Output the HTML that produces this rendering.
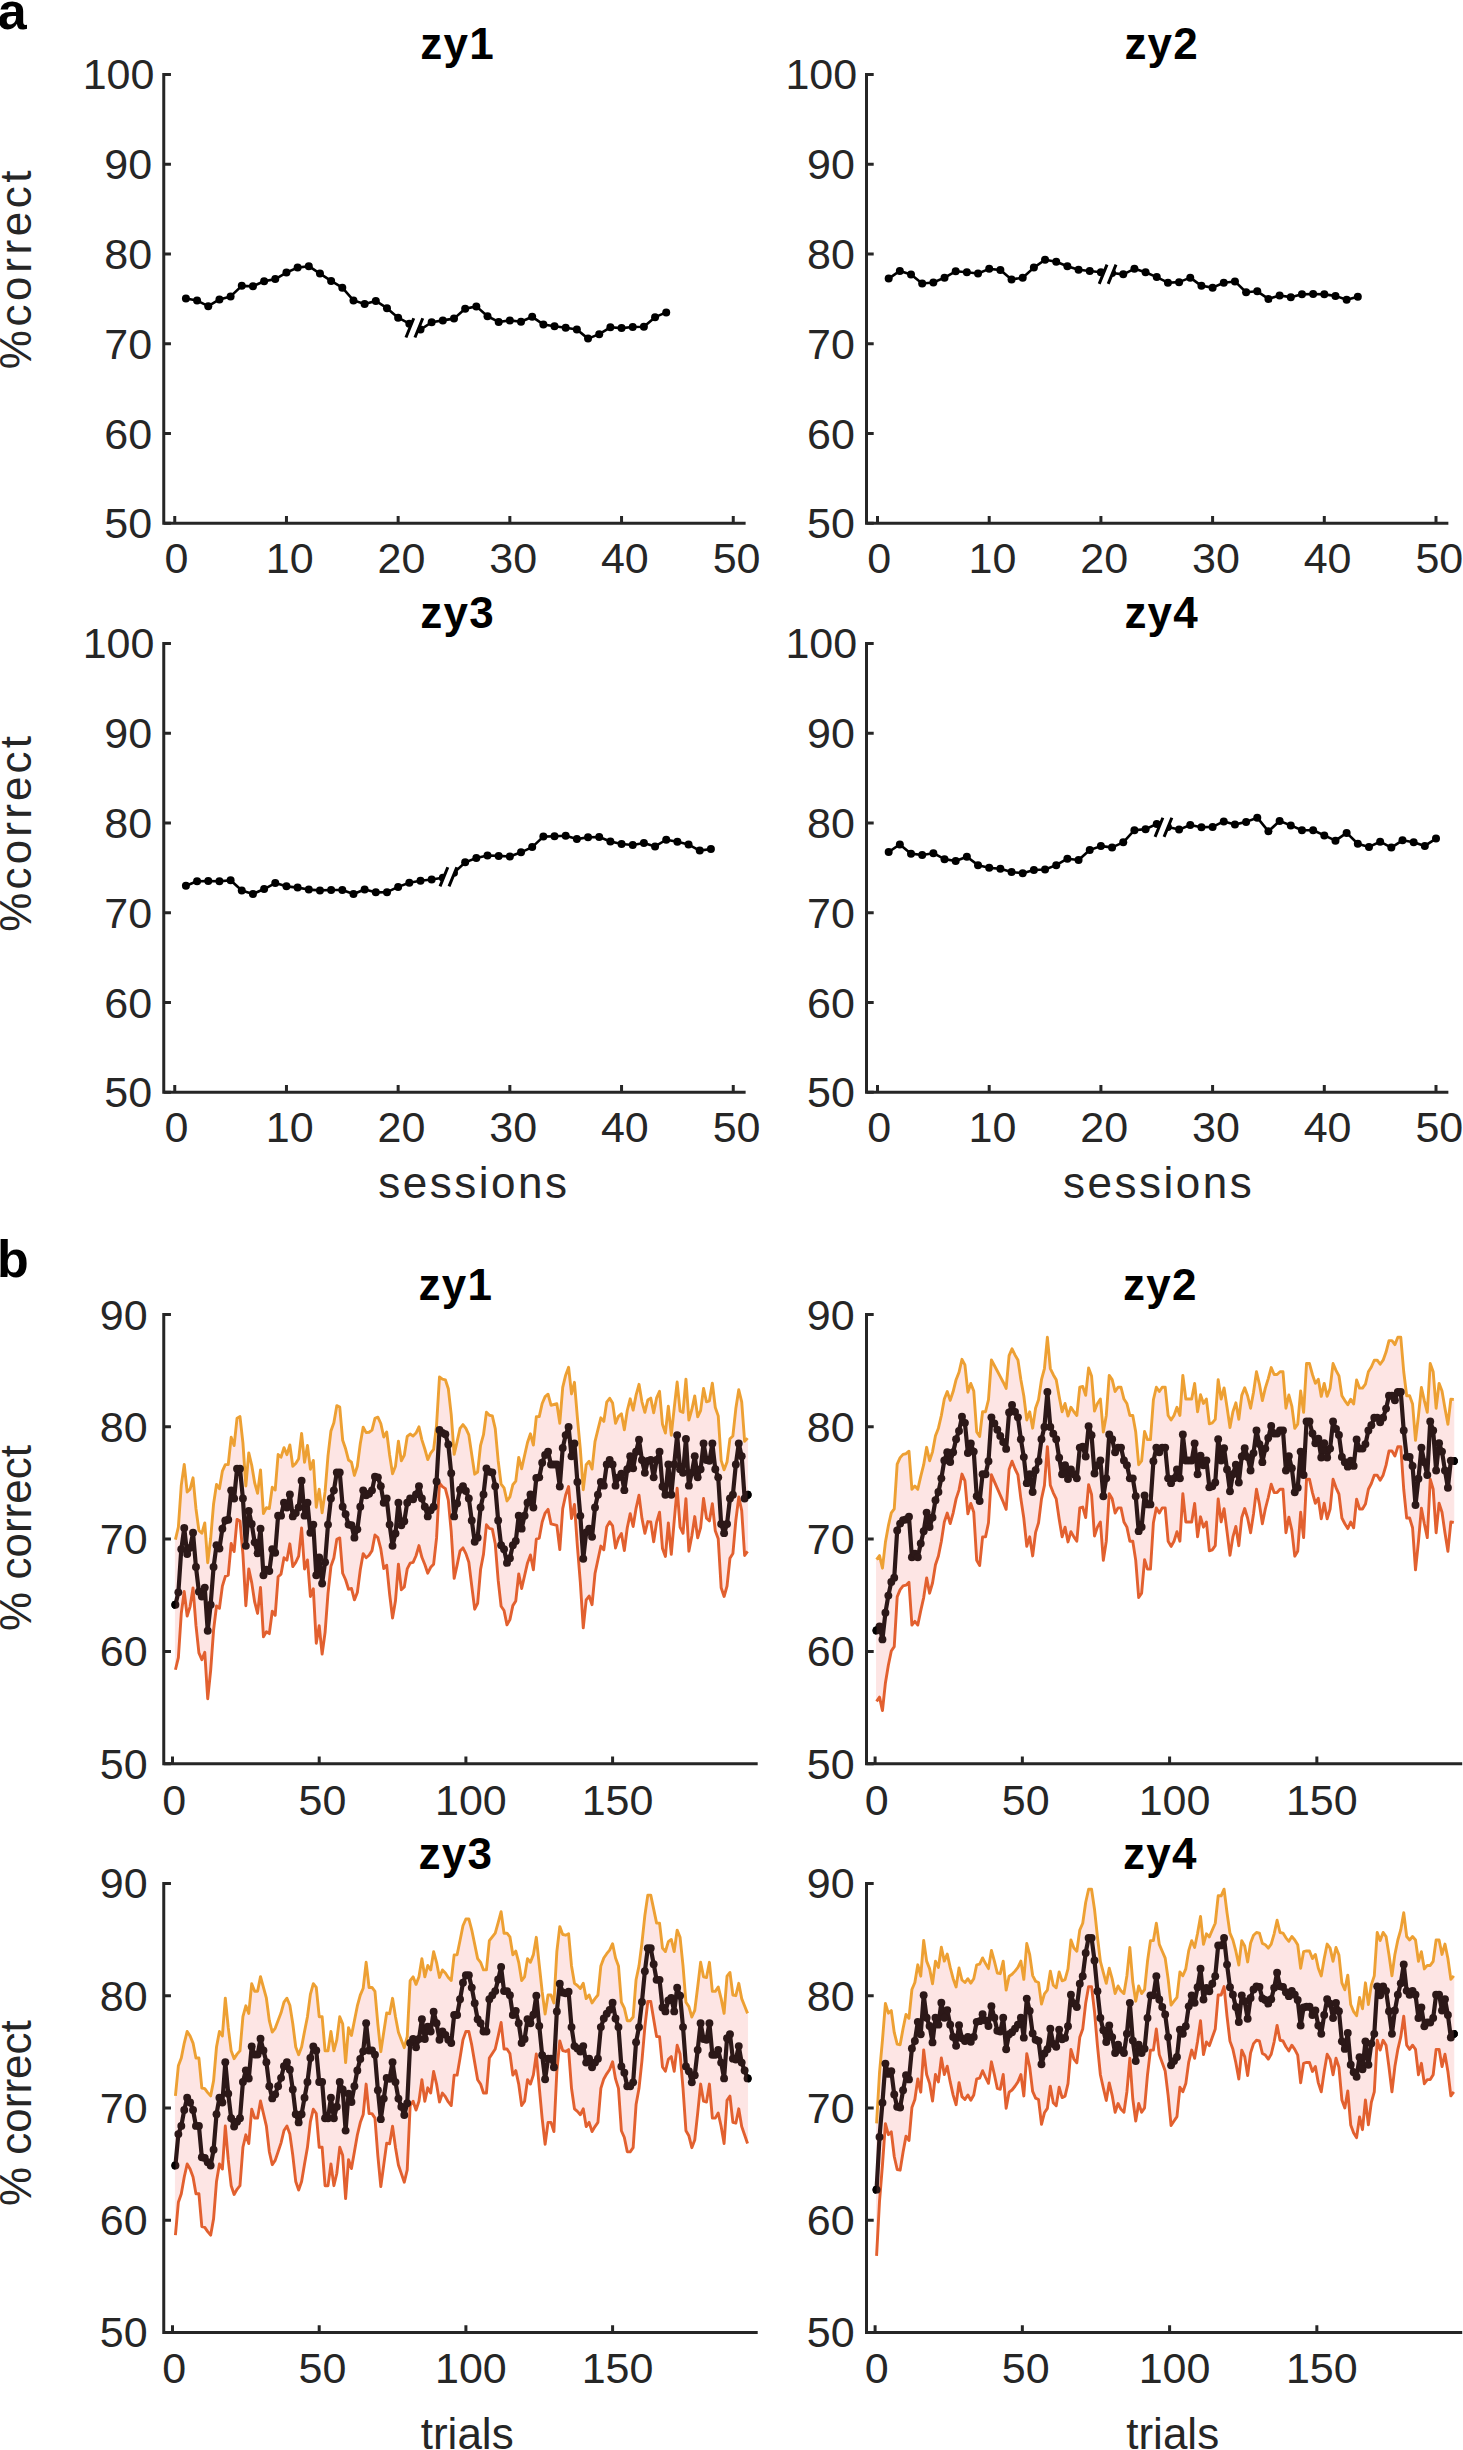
<!DOCTYPE html>
<html lang="en"><head><meta charset="utf-8"><title>Figure</title>
<style>html,body{margin:0;padding:0;background:#fff}svg{display:block}svg text{font-family:"Liberation Sans",sans-serif}</style></head>
<body>
<svg width="1463" height="2450" viewBox="0 0 1463 2450" >
<rect width="1463" height="2450" fill="#fff"/>
<text x="-2.2" y="28.8" font-size="52" font-weight="bold" fill="#000">a</text>
<text x="-3" y="1277.3" font-size="52" font-weight="bold" fill="#000">b</text>
<path d="M163.75 72.9V523.3H745.62" fill="none" stroke="#262626" stroke-width="3.0" stroke-linejoin="miter"/>
<path d="M174.75 523.3v-7.2M286.45 523.3v-7.2M398.15 523.3v-7.2M509.85 523.3v-7.2M621.55 523.3v-7.2M733.25 523.3v-7.2M163.75 523.3h7.2M163.75 433.52h7.2M163.75 343.74h7.2M163.75 253.96h7.2M163.75 164.18h7.2M163.75 74.4h7.2" fill="none" stroke="#262626" stroke-width="3.0"/>
<g font-size="43" fill="#262626"><text x="176.4" y="573.3" text-anchor="middle">0</text><text x="289.75" y="573.3" text-anchor="middle">10</text><text x="401.45" y="573.3" text-anchor="middle">20</text><text x="513.15" y="573.3" text-anchor="middle">30</text><text x="624.85" y="573.3" text-anchor="middle">40</text><text x="736.55" y="573.3" text-anchor="middle">50</text><text x="152.15" y="538.3" text-anchor="end">50</text><text x="152.15" y="448.52" text-anchor="end">60</text><text x="152.15" y="358.74" text-anchor="end">70</text><text x="152.15" y="268.96" text-anchor="end">80</text><text x="152.15" y="179.18" text-anchor="end">90</text><text x="154.45" y="89.4" text-anchor="end">100</text></g>
<text x="420.3" y="58.8" font-size="44" font-weight="bold" fill="#000" letter-spacing="1.2">zy1</text>
<path d="M185.92 298.58L197.09 300.56L208.26 306.21L219.43 299.48L230.6 296.43L241.77 285.83L252.94 286.19L264.11 281.25L275.28 279.1L286.45 272.54L297.62 267.61L308.79 266.17L319.96 273.62L331.13 280.89L342.3 287.63L353.47 300.38L364.64 304.06L375.81 300.91L386.98 308.19L398.15 317.7L409.32 323.72L420.49 329.55L431.66 322.28L442.83 320.4L454 318.6L465.17 308.73L476.34 306.39L487.51 316.27L498.68 321.92L509.85 320.4L521.02 321.74L532.19 316.81L543.36 324.44L554.53 326.23L565.7 327.76L576.87 329.55L588.04 338.62L599.21 334.13L610.38 327.31L621.55 328.12L632.72 326.95L643.89 326.77L655.06 317.17L666.23 312.41" fill="none" stroke="#000" stroke-width="2.6" stroke-linejoin="round"/>
<g fill="#000"><circle cx="185.92" cy="298.58" r="4"/><circle cx="197.09" cy="300.56" r="4"/><circle cx="208.26" cy="306.21" r="4"/><circle cx="219.43" cy="299.48" r="4"/><circle cx="230.6" cy="296.43" r="4"/><circle cx="241.77" cy="285.83" r="4"/><circle cx="252.94" cy="286.19" r="4"/><circle cx="264.11" cy="281.25" r="4"/><circle cx="275.28" cy="279.1" r="4"/><circle cx="286.45" cy="272.54" r="4"/><circle cx="297.62" cy="267.61" r="4"/><circle cx="308.79" cy="266.17" r="4"/><circle cx="319.96" cy="273.62" r="4"/><circle cx="331.13" cy="280.89" r="4"/><circle cx="342.3" cy="287.63" r="4"/><circle cx="353.47" cy="300.38" r="4"/><circle cx="364.64" cy="304.06" r="4"/><circle cx="375.81" cy="300.91" r="4"/><circle cx="386.98" cy="308.19" r="4"/><circle cx="398.15" cy="317.7" r="4"/><circle cx="409.32" cy="323.72" r="4"/><circle cx="420.49" cy="329.55" r="4"/><circle cx="431.66" cy="322.28" r="4"/><circle cx="442.83" cy="320.4" r="4"/><circle cx="454" cy="318.6" r="4"/><circle cx="465.17" cy="308.73" r="4"/><circle cx="476.34" cy="306.39" r="4"/><circle cx="487.51" cy="316.27" r="4"/><circle cx="498.68" cy="321.92" r="4"/><circle cx="509.85" cy="320.4" r="4"/><circle cx="521.02" cy="321.74" r="4"/><circle cx="532.19" cy="316.81" r="4"/><circle cx="543.36" cy="324.44" r="4"/><circle cx="554.53" cy="326.23" r="4"/><circle cx="565.7" cy="327.76" r="4"/><circle cx="576.87" cy="329.55" r="4"/><circle cx="588.04" cy="338.62" r="4"/><circle cx="599.21" cy="334.13" r="4"/><circle cx="610.38" cy="327.31" r="4"/><circle cx="621.55" cy="328.12" r="4"/><circle cx="632.72" cy="326.95" r="4"/><circle cx="643.89" cy="326.77" r="4"/><circle cx="655.06" cy="317.17" r="4"/><circle cx="666.23" cy="312.41" r="4"/></g>
<path d="M405.95 337.45L413.75 318.25L422.75 318.25L414.95 337.45Z" fill="#fff"/>
<path d="M405.95 337.45L413.75 318.25M414.95 337.45L422.75 318.25" stroke="#000" stroke-width="3" fill="none"/>
<path d="M866.5 72.9V523.3H1448.37" fill="none" stroke="#262626" stroke-width="3.0" stroke-linejoin="miter"/>
<path d="M877.5 523.3v-7.2M989.2 523.3v-7.2M1100.9 523.3v-7.2M1212.6 523.3v-7.2M1324.3 523.3v-7.2M1436 523.3v-7.2M866.5 523.3h7.2M866.5 433.52h7.2M866.5 343.74h7.2M866.5 253.96h7.2M866.5 164.18h7.2M866.5 74.4h7.2" fill="none" stroke="#262626" stroke-width="3.0"/>
<g font-size="43" fill="#262626"><text x="879.15" y="573.3" text-anchor="middle">0</text><text x="992.5" y="573.3" text-anchor="middle">10</text><text x="1104.2" y="573.3" text-anchor="middle">20</text><text x="1215.9" y="573.3" text-anchor="middle">30</text><text x="1327.6" y="573.3" text-anchor="middle">40</text><text x="1439.3" y="573.3" text-anchor="middle">50</text><text x="854.9" y="538.3" text-anchor="end">50</text><text x="854.9" y="448.52" text-anchor="end">60</text><text x="854.9" y="358.74" text-anchor="end">70</text><text x="854.9" y="268.96" text-anchor="end">80</text><text x="854.9" y="179.18" text-anchor="end">90</text><text x="857.2" y="89.4" text-anchor="end">100</text></g>
<text x="1124.4" y="58.8" font-size="44" font-weight="bold" fill="#000" letter-spacing="1.2">zy2</text>
<path d="M888.67 278.56L899.84 270.93L911.01 274.52L922.18 283.5L933.35 282.51L944.52 277.66L955.69 271.29L966.86 272.19L978.03 273.44L989.2 268.86L1000.37 269.94L1011.54 279.46L1022.71 277.66L1033.88 267.61L1045.05 259.8L1056.22 261.77L1067.39 266.17L1078.56 269.76L1089.73 270.93L1100.9 272.19L1112.07 273.08L1123.24 274.34L1134.41 268.86L1145.58 272.19L1156.75 277.12L1167.92 282.69L1179.09 282.15L1190.26 277.66L1201.43 285.83L1212.6 287.63L1223.77 282.69L1234.94 281.43L1246.11 292.21L1257.28 291.31L1268.45 298.94L1279.62 295.44L1290.79 297.14L1301.96 294.36L1313.13 294L1324.3 294.36L1335.47 295.89L1346.64 299.84L1357.81 296.79" fill="none" stroke="#000" stroke-width="2.6" stroke-linejoin="round"/>
<g fill="#000"><circle cx="888.67" cy="278.56" r="4"/><circle cx="899.84" cy="270.93" r="4"/><circle cx="911.01" cy="274.52" r="4"/><circle cx="922.18" cy="283.5" r="4"/><circle cx="933.35" cy="282.51" r="4"/><circle cx="944.52" cy="277.66" r="4"/><circle cx="955.69" cy="271.29" r="4"/><circle cx="966.86" cy="272.19" r="4"/><circle cx="978.03" cy="273.44" r="4"/><circle cx="989.2" cy="268.86" r="4"/><circle cx="1000.37" cy="269.94" r="4"/><circle cx="1011.54" cy="279.46" r="4"/><circle cx="1022.71" cy="277.66" r="4"/><circle cx="1033.88" cy="267.61" r="4"/><circle cx="1045.05" cy="259.8" r="4"/><circle cx="1056.22" cy="261.77" r="4"/><circle cx="1067.39" cy="266.17" r="4"/><circle cx="1078.56" cy="269.76" r="4"/><circle cx="1089.73" cy="270.93" r="4"/><circle cx="1100.9" cy="272.19" r="4"/><circle cx="1112.07" cy="273.08" r="4"/><circle cx="1123.24" cy="274.34" r="4"/><circle cx="1134.41" cy="268.86" r="4"/><circle cx="1145.58" cy="272.19" r="4"/><circle cx="1156.75" cy="277.12" r="4"/><circle cx="1167.92" cy="282.69" r="4"/><circle cx="1179.09" cy="282.15" r="4"/><circle cx="1190.26" cy="277.66" r="4"/><circle cx="1201.43" cy="285.83" r="4"/><circle cx="1212.6" cy="287.63" r="4"/><circle cx="1223.77" cy="282.69" r="4"/><circle cx="1234.94" cy="281.43" r="4"/><circle cx="1246.11" cy="292.21" r="4"/><circle cx="1257.28" cy="291.31" r="4"/><circle cx="1268.45" cy="298.94" r="4"/><circle cx="1279.62" cy="295.44" r="4"/><circle cx="1290.79" cy="297.14" r="4"/><circle cx="1301.96" cy="294.36" r="4"/><circle cx="1313.13" cy="294" r="4"/><circle cx="1324.3" cy="294.36" r="4"/><circle cx="1335.47" cy="295.89" r="4"/><circle cx="1346.64" cy="299.84" r="4"/><circle cx="1357.81" cy="296.79" r="4"/></g>
<path d="M1099.2 283.82L1107 264.62L1116 264.62L1108.2 283.82Z" fill="#fff"/>
<path d="M1099.2 283.82L1107 264.62M1108.2 283.82L1116 264.62" stroke="#000" stroke-width="3" fill="none"/>
<path d="M163.75 641.9V1092.3H745.62" fill="none" stroke="#262626" stroke-width="3.0" stroke-linejoin="miter"/>
<path d="M174.75 1092.3v-7.2M286.45 1092.3v-7.2M398.15 1092.3v-7.2M509.85 1092.3v-7.2M621.55 1092.3v-7.2M733.25 1092.3v-7.2M163.75 1092.3h7.2M163.75 1002.52h7.2M163.75 912.74h7.2M163.75 822.96h7.2M163.75 733.18h7.2M163.75 643.4h7.2" fill="none" stroke="#262626" stroke-width="3.0"/>
<g font-size="43" fill="#262626"><text x="176.4" y="1142.3" text-anchor="middle">0</text><text x="289.75" y="1142.3" text-anchor="middle">10</text><text x="401.45" y="1142.3" text-anchor="middle">20</text><text x="513.15" y="1142.3" text-anchor="middle">30</text><text x="624.85" y="1142.3" text-anchor="middle">40</text><text x="736.55" y="1142.3" text-anchor="middle">50</text><text x="152.15" y="1107.3" text-anchor="end">50</text><text x="152.15" y="1017.52" text-anchor="end">60</text><text x="152.15" y="927.74" text-anchor="end">70</text><text x="152.15" y="837.96" text-anchor="end">80</text><text x="152.15" y="748.18" text-anchor="end">90</text><text x="154.45" y="658.4" text-anchor="end">100</text></g>
<text x="420.3" y="628" font-size="44" font-weight="bold" fill="#000" letter-spacing="1.2">zy3</text>
<path d="M185.92 885.81L197.09 881.23L208.26 881.05L219.43 881.23L230.6 880.33L241.77 890.56L252.94 893.98L264.11 889.04L275.28 883.02L286.45 886.34L297.62 887.6L308.79 889.58L319.96 890.38L331.13 889.94L342.3 889.94L353.47 893.98L364.64 889.58L375.81 892.36L386.98 892.18L398.15 886.88L409.32 882.66L420.49 880.78L431.66 879.52L442.83 877.82L454 872.79L465.17 862.37L476.34 857.97L487.51 855.46L498.68 855.91L509.85 856.54L521.02 852.32L532.19 847.11L543.36 836.61L554.53 836.25L565.7 835.8L576.87 839.12L588.04 837.24L599.21 837.06L610.38 841.45L621.55 843.97L632.72 844.96L643.89 843.07L655.06 846.48L666.23 839.75L677.4 841.81L688.57 844.6L699.74 850.61L710.91 849" fill="none" stroke="#000" stroke-width="2.6" stroke-linejoin="round"/>
<g fill="#000"><circle cx="185.92" cy="885.81" r="4"/><circle cx="197.09" cy="881.23" r="4"/><circle cx="208.26" cy="881.05" r="4"/><circle cx="219.43" cy="881.23" r="4"/><circle cx="230.6" cy="880.33" r="4"/><circle cx="241.77" cy="890.56" r="4"/><circle cx="252.94" cy="893.98" r="4"/><circle cx="264.11" cy="889.04" r="4"/><circle cx="275.28" cy="883.02" r="4"/><circle cx="286.45" cy="886.34" r="4"/><circle cx="297.62" cy="887.6" r="4"/><circle cx="308.79" cy="889.58" r="4"/><circle cx="319.96" cy="890.38" r="4"/><circle cx="331.13" cy="889.94" r="4"/><circle cx="342.3" cy="889.94" r="4"/><circle cx="353.47" cy="893.98" r="4"/><circle cx="364.64" cy="889.58" r="4"/><circle cx="375.81" cy="892.36" r="4"/><circle cx="386.98" cy="892.18" r="4"/><circle cx="398.15" cy="886.88" r="4"/><circle cx="409.32" cy="882.66" r="4"/><circle cx="420.49" cy="880.78" r="4"/><circle cx="431.66" cy="879.52" r="4"/><circle cx="442.83" cy="877.82" r="4"/><circle cx="454" cy="872.79" r="4"/><circle cx="465.17" cy="862.37" r="4"/><circle cx="476.34" cy="857.97" r="4"/><circle cx="487.51" cy="855.46" r="4"/><circle cx="498.68" cy="855.91" r="4"/><circle cx="509.85" cy="856.54" r="4"/><circle cx="521.02" cy="852.32" r="4"/><circle cx="532.19" cy="847.11" r="4"/><circle cx="543.36" cy="836.61" r="4"/><circle cx="554.53" cy="836.25" r="4"/><circle cx="565.7" cy="835.8" r="4"/><circle cx="576.87" cy="839.12" r="4"/><circle cx="588.04" cy="837.24" r="4"/><circle cx="599.21" cy="837.06" r="4"/><circle cx="610.38" cy="841.45" r="4"/><circle cx="621.55" cy="843.97" r="4"/><circle cx="632.72" cy="844.96" r="4"/><circle cx="643.89" cy="843.07" r="4"/><circle cx="655.06" cy="846.48" r="4"/><circle cx="666.23" cy="839.75" r="4"/><circle cx="677.4" cy="841.81" r="4"/><circle cx="688.57" cy="844.6" r="4"/><circle cx="699.74" cy="850.61" r="4"/><circle cx="710.91" cy="849" r="4"/></g>
<path d="M440.02 886.4L447.81 867.2L456.81 867.2L449.02 886.4Z" fill="#fff"/>
<path d="M440.02 886.4L447.81 867.2M449.02 886.4L456.81 867.2" stroke="#000" stroke-width="3" fill="none"/>
<path d="M866.5 641.9V1092.3H1448.37" fill="none" stroke="#262626" stroke-width="3.0" stroke-linejoin="miter"/>
<path d="M877.5 1092.3v-7.2M989.2 1092.3v-7.2M1100.9 1092.3v-7.2M1212.6 1092.3v-7.2M1324.3 1092.3v-7.2M1436 1092.3v-7.2M866.5 1092.3h7.2M866.5 1002.52h7.2M866.5 912.74h7.2M866.5 822.96h7.2M866.5 733.18h7.2M866.5 643.4h7.2" fill="none" stroke="#262626" stroke-width="3.0"/>
<g font-size="43" fill="#262626"><text x="879.15" y="1142.3" text-anchor="middle">0</text><text x="992.5" y="1142.3" text-anchor="middle">10</text><text x="1104.2" y="1142.3" text-anchor="middle">20</text><text x="1215.9" y="1142.3" text-anchor="middle">30</text><text x="1327.6" y="1142.3" text-anchor="middle">40</text><text x="1439.3" y="1142.3" text-anchor="middle">50</text><text x="854.9" y="1107.3" text-anchor="end">50</text><text x="854.9" y="1017.52" text-anchor="end">60</text><text x="854.9" y="927.74" text-anchor="end">70</text><text x="854.9" y="837.96" text-anchor="end">80</text><text x="854.9" y="748.18" text-anchor="end">90</text><text x="857.2" y="658.4" text-anchor="end">100</text></g>
<text x="1124.4" y="628" font-size="44" font-weight="bold" fill="#000" letter-spacing="1.2">zy4</text>
<path d="M888.67 851.96L899.84 844.42L911.01 853.66L922.18 854.92L933.35 853.22L944.52 859.14L955.69 861.03L966.86 856.81L978.03 865.16L989.2 867.85L1000.37 868.75L1011.54 872.07L1022.71 873.15L1033.88 870L1045.05 869.56L1056.22 865.16L1067.39 858.69L1078.56 859.95L1089.73 850.07L1100.9 846.12L1112.07 847.38L1123.24 842.35L1134.41 830.23L1145.58 829.15L1156.75 823.95L1167.92 827.09L1179.09 829.6L1190.26 825.02L1201.43 827.27L1212.6 826.91L1223.77 821.43L1234.94 824.4L1246.11 821.88L1257.28 817.66L1268.45 831.31L1279.62 820.98L1290.79 825.38L1301.96 830.23L1313.13 830.23L1324.3 835.44L1335.47 840.65L1346.64 832.93L1357.81 843.79L1368.98 846.93L1380.15 841.72L1391.32 847.56L1402.49 840.29L1413.66 842.17L1424.83 845.94L1436 838.58" fill="none" stroke="#000" stroke-width="2.6" stroke-linejoin="round"/>
<g fill="#000"><circle cx="888.67" cy="851.96" r="4"/><circle cx="899.84" cy="844.42" r="4"/><circle cx="911.01" cy="853.66" r="4"/><circle cx="922.18" cy="854.92" r="4"/><circle cx="933.35" cy="853.22" r="4"/><circle cx="944.52" cy="859.14" r="4"/><circle cx="955.69" cy="861.03" r="4"/><circle cx="966.86" cy="856.81" r="4"/><circle cx="978.03" cy="865.16" r="4"/><circle cx="989.2" cy="867.85" r="4"/><circle cx="1000.37" cy="868.75" r="4"/><circle cx="1011.54" cy="872.07" r="4"/><circle cx="1022.71" cy="873.15" r="4"/><circle cx="1033.88" cy="870" r="4"/><circle cx="1045.05" cy="869.56" r="4"/><circle cx="1056.22" cy="865.16" r="4"/><circle cx="1067.39" cy="858.69" r="4"/><circle cx="1078.56" cy="859.95" r="4"/><circle cx="1089.73" cy="850.07" r="4"/><circle cx="1100.9" cy="846.12" r="4"/><circle cx="1112.07" cy="847.38" r="4"/><circle cx="1123.24" cy="842.35" r="4"/><circle cx="1134.41" cy="830.23" r="4"/><circle cx="1145.58" cy="829.15" r="4"/><circle cx="1156.75" cy="823.95" r="4"/><circle cx="1167.92" cy="827.09" r="4"/><circle cx="1179.09" cy="829.6" r="4"/><circle cx="1190.26" cy="825.02" r="4"/><circle cx="1201.43" cy="827.27" r="4"/><circle cx="1212.6" cy="826.91" r="4"/><circle cx="1223.77" cy="821.43" r="4"/><circle cx="1234.94" cy="824.4" r="4"/><circle cx="1246.11" cy="821.88" r="4"/><circle cx="1257.28" cy="817.66" r="4"/><circle cx="1268.45" cy="831.31" r="4"/><circle cx="1279.62" cy="820.98" r="4"/><circle cx="1290.79" cy="825.38" r="4"/><circle cx="1301.96" cy="830.23" r="4"/><circle cx="1313.13" cy="830.23" r="4"/><circle cx="1324.3" cy="835.44" r="4"/><circle cx="1335.47" cy="840.65" r="4"/><circle cx="1346.64" cy="832.93" r="4"/><circle cx="1357.81" cy="843.79" r="4"/><circle cx="1368.98" cy="846.93" r="4"/><circle cx="1380.15" cy="841.72" r="4"/><circle cx="1391.32" cy="847.56" r="4"/><circle cx="1402.49" cy="840.29" r="4"/><circle cx="1413.66" cy="842.17" r="4"/><circle cx="1424.83" cy="845.94" r="4"/><circle cx="1436" cy="838.58" r="4"/></g>
<path d="M1155.05 836.93L1162.85 817.73L1171.85 817.73L1164.05 836.93Z" fill="#fff"/>
<path d="M1155.05 836.93L1162.85 817.73M1164.05 836.93L1171.85 817.73" stroke="#000" stroke-width="3" fill="none"/>
<circle cx="175.43" cy="1604.68" r="3.95" fill="#000"/>
<circle cx="747.56" cy="1494.74" r="3.95" fill="#000"/>
<path d="M175.43 1539.63L178.37 1527.03L181.3 1485.15L184.24 1464.4L187.17 1492.04L190.1 1489.15L193.04 1477.78L195.97 1508.7L198.91 1530.51L201.84 1533.32L204.77 1522.94L207.71 1562.69L210.64 1538.8L213.58 1503.97L216.51 1484.35L219.44 1488.79L222.38 1471.13L225.31 1464.58L228.25 1464.51L231.18 1437.31L234.11 1445.58L237.05 1418.2L239.98 1416.63L242.92 1442.89L245.85 1485.93L248.78 1452.92L251.72 1465.25L254.65 1482.75L257.59 1493.27L260.52 1469.84L263.45 1513.65L266.39 1507.77L269.32 1508.58L272.26 1487.22L275.19 1490.06L278.12 1454.54L281.06 1457.18L283.99 1447.63L286.93 1454.69L289.86 1444.97L292.79 1466.29L295.73 1463.43L298.66 1458.65L301.6 1433.39L304.53 1462.27L307.46 1445.49L310.4 1469.19L313.33 1460.37L316.27 1507.24L319.2 1489.13L322.13 1512.8L325.07 1491.92L328 1455.8L330.94 1430.89L333.87 1422.67L336.8 1405.64L339.74 1407.09L342.67 1440.25L345.61 1448.79L348.54 1460.02L351.47 1462.19L354.41 1475.41L357.34 1466.22L360.28 1443.69L363.21 1427.12L366.14 1432.61L369.08 1432.24L372.01 1430.09L374.95 1418.34L377.88 1417.13L380.81 1423.51L383.75 1436.97L386.68 1431.93L389.62 1455.01L392.55 1473.71L395.48 1466.15L398.42 1441.27L401.35 1460.83L404.29 1455.3L407.22 1436.49L410.15 1434.06L413.09 1436.12L416.02 1433.05L418.96 1426.83L421.89 1439.83L424.82 1449.01L427.76 1459.61L430.69 1453.2L433.63 1449.34L436.56 1425.1L439.49 1377.06L442.43 1379.12L445.36 1379.83L448.3 1388.67L451.23 1414.63L454.16 1454.41L457.1 1441.64L460.03 1428.3L462.97 1424.52L465.9 1428.45L468.83 1434.89L471.77 1454.78L474.7 1474.17L477.64 1472.03L480.57 1445.27L483.5 1434.7L486.44 1412.14L489.37 1415.25L492.31 1415.86L495.24 1428.6L498.17 1460.72L501.11 1484.1L504.04 1487.93L506.98 1500.97L509.91 1496.8L512.84 1484.72L515.78 1481.1L518.71 1457.4L521.65 1468.78L524.58 1455.55L527.51 1442.51L530.45 1433.83L533.38 1445.09L536.32 1416.81L539.25 1416.58L542.18 1403.5L545.12 1396.67L548.05 1394.17L550.99 1405.22L553.92 1404.49L556.85 1403.76L559.79 1423.23L562.72 1387.41L565.66 1375.18L568.59 1367.28L571.52 1393.92L574.46 1382.32L577.39 1417.65L580.33 1449.22L583.26 1489.68L586.19 1464.77L589.13 1461.3L592.06 1469.02L595 1441.57L597.93 1429.67L600.86 1417.83L603.8 1421.46L606.73 1402.2L609.67 1398.28L612.6 1403.12L615.53 1423.34L618.47 1416.39L621.4 1413.7L624.34 1429.77L627.27 1410.5L630.2 1398.81L633.14 1410.21L636.07 1395.11L639.01 1384.3L641.94 1401.77L644.87 1412.35L647.81 1400.07L650.74 1398.14L653.68 1412.8L656.61 1397.94L659.54 1391.34L662.48 1424.32L665.41 1433.09L668.35 1406.12L671.28 1435.2L674.21 1408.15L677.15 1382.05L680.08 1411.2L683.02 1412.39L685.95 1379.14L688.88 1420.07L691.82 1409.72L694.75 1395.89L697.69 1416.76L700.62 1410.62L703.55 1388.35L706.49 1401.85L709.42 1400.78L712.36 1383.1L715.29 1407.46L718.22 1415.87L721.16 1460.33L724.09 1469.81L727.03 1461.98L729.96 1438.69L732.89 1435.95L735.83 1408.56L738.76 1389.78L741.7 1401.81L744.63 1441.37L747.56 1438.14L747.56 1551.34L744.63 1555.52L741.7 1510.64L738.76 1497.06L735.83 1520.5L732.89 1553.53L729.96 1558.21L727.03 1586.12L724.09 1596.49L721.16 1587.77L718.22 1538.8L715.29 1530.82L712.36 1503.74L709.42 1520.88L706.49 1518.23L703.55 1498.49L700.62 1527.66L697.69 1537.91L694.75 1516.56L691.82 1535.97L688.88 1551.22L685.95 1498.72L683.02 1533.3L680.08 1527.07L677.15 1488.17L674.21 1520.92L671.28 1554.29L668.35 1522.95L665.41 1556.39L662.48 1548.54L659.54 1512.12L656.61 1522.14L653.68 1541.87L650.74 1521.94L647.81 1521.58L644.87 1533.33L641.94 1518.31L639.01 1495.12L636.07 1508.35L633.14 1526.49L630.2 1513.64L627.27 1527.77L624.34 1550.51L621.4 1533.56L618.47 1538.28L615.53 1547.95L612.6 1525.94L609.67 1521.81L606.73 1526.86L603.8 1549.83L600.86 1546.05L597.93 1559.81L595 1573.52L592.06 1604.68L589.13 1596.01L586.19 1599.95L583.26 1627.82L580.33 1582.48L577.39 1546.23L574.46 1504.52L571.52 1518.53L568.59 1486.55L565.66 1495.04L562.72 1508.64L559.79 1549.63L556.85 1525.31L553.92 1524.58L550.99 1523.85L548.05 1509.29L545.12 1513.08L542.18 1521.97L539.25 1538.09L536.32 1539.21L533.38 1569.77L530.45 1554.98L527.51 1562.92L524.58 1575.71L521.65 1588.54L518.71 1573.86L515.78 1600.92L512.84 1605.61L509.91 1619.58L506.98 1624.85L504.04 1610.49L501.11 1606.23L498.17 1580.19L495.24 1543.81L492.31 1529.15L489.37 1528.41L486.44 1524.79L483.5 1554.11L480.57 1569.59L477.64 1603.25L474.7 1609.19L471.77 1586.13L468.83 1562.23L465.9 1553.62L462.97 1547.9L460.03 1551.07L457.1 1565.14L454.16 1578.42L451.23 1531.73L448.3 1500.2L445.36 1488.59L442.43 1486.61L439.49 1483.05L436.56 1537.88L433.63 1564.18L430.69 1567.28L427.76 1573.22L424.82 1564.5L421.89 1557.29L418.96 1545.58L416.02 1555.76L413.09 1562.35L410.15 1563.06L407.22 1568.94L404.29 1586.96L401.35 1589.75L398.42 1564.16L395.48 1600.82L392.55 1617.96L389.62 1594.21L386.68 1565.19L383.75 1568.46L380.81 1548.91L377.88 1537.54L374.95 1534.98L372.01 1550.63L369.08 1555.22L366.14 1557.78L363.21 1553.6L360.28 1569.82L357.34 1592.44L354.41 1599.87L351.47 1588.38L348.54 1589.21L345.61 1579.77L342.67 1573.27L339.74 1537.92L336.8 1539.38L333.87 1558.05L330.94 1566.23L328 1593.42L325.07 1632.55L322.13 1654.12L319.2 1625.68L316.27 1643.28L313.33 1588.86L310.4 1596.43L307.46 1559.94L304.53 1568.99L301.6 1528.02L298.66 1556.21L295.73 1562.44L292.79 1566.54L289.86 1543.84L286.93 1560.18L283.99 1557.8L281.06 1574.08L278.12 1576.72L275.19 1615.32L272.26 1611.19L269.32 1633.63L266.39 1631.74L263.45 1636.87L260.52 1587.47L257.59 1613.45L254.65 1601.96L251.72 1582.63L248.78 1568.91L245.85 1605.74L242.92 1554.23L239.98 1520.97L237.05 1519.4L234.11 1551.53L231.18 1543.41L228.25 1575.06L225.31 1576.34L222.38 1586.18L219.44 1608.28L216.51 1605.98L213.58 1630.16L210.64 1670.57L207.71 1698.78L204.77 1652.28L201.84 1659.66L198.91 1652.81L195.97 1625.42L193.04 1587.84L190.1 1606.57L187.17 1616.03L184.24 1591.56L181.3 1613.26L178.37 1657.63L175.43 1669.74Z" fill="#FDE5E4" stroke="#FDE5E4" stroke-width="1" stroke-linejoin="miter" stroke-miterlimit="6"/>
<path d="M175.43 1539.63L178.37 1527.03L181.3 1485.15L184.24 1464.4L187.17 1492.04L190.1 1489.15L193.04 1477.78L195.97 1508.7L198.91 1530.51L201.84 1533.32L204.77 1522.94L207.71 1562.69L210.64 1538.8L213.58 1503.97L216.51 1484.35L219.44 1488.79L222.38 1471.13L225.31 1464.58L228.25 1464.51L231.18 1437.31L234.11 1445.58L237.05 1418.2L239.98 1416.63L242.92 1442.89L245.85 1485.93L248.78 1452.92L251.72 1465.25L254.65 1482.75L257.59 1493.27L260.52 1469.84L263.45 1513.65L266.39 1507.77L269.32 1508.58L272.26 1487.22L275.19 1490.06L278.12 1454.54L281.06 1457.18L283.99 1447.63L286.93 1454.69L289.86 1444.97L292.79 1466.29L295.73 1463.43L298.66 1458.65L301.6 1433.39L304.53 1462.27L307.46 1445.49L310.4 1469.19L313.33 1460.37L316.27 1507.24L319.2 1489.13L322.13 1512.8L325.07 1491.92L328 1455.8L330.94 1430.89L333.87 1422.67L336.8 1405.64L339.74 1407.09L342.67 1440.25L345.61 1448.79L348.54 1460.02L351.47 1462.19L354.41 1475.41L357.34 1466.22L360.28 1443.69L363.21 1427.12L366.14 1432.61L369.08 1432.24L372.01 1430.09L374.95 1418.34L377.88 1417.13L380.81 1423.51L383.75 1436.97L386.68 1431.93L389.62 1455.01L392.55 1473.71L395.48 1466.15L398.42 1441.27L401.35 1460.83L404.29 1455.3L407.22 1436.49L410.15 1434.06L413.09 1436.12L416.02 1433.05L418.96 1426.83L421.89 1439.83L424.82 1449.01L427.76 1459.61L430.69 1453.2L433.63 1449.34L436.56 1425.1L439.49 1377.06L442.43 1379.12L445.36 1379.83L448.3 1388.67L451.23 1414.63L454.16 1454.41L457.1 1441.64L460.03 1428.3L462.97 1424.52L465.9 1428.45L468.83 1434.89L471.77 1454.78L474.7 1474.17L477.64 1472.03L480.57 1445.27L483.5 1434.7L486.44 1412.14L489.37 1415.25L492.31 1415.86L495.24 1428.6L498.17 1460.72L501.11 1484.1L504.04 1487.93L506.98 1500.97L509.91 1496.8L512.84 1484.72L515.78 1481.1L518.71 1457.4L521.65 1468.78L524.58 1455.55L527.51 1442.51L530.45 1433.83L533.38 1445.09L536.32 1416.81L539.25 1416.58L542.18 1403.5L545.12 1396.67L548.05 1394.17L550.99 1405.22L553.92 1404.49L556.85 1403.76L559.79 1423.23L562.72 1387.41L565.66 1375.18L568.59 1367.28L571.52 1393.92L574.46 1382.32L577.39 1417.65L580.33 1449.22L583.26 1489.68L586.19 1464.77L589.13 1461.3L592.06 1469.02L595 1441.57L597.93 1429.67L600.86 1417.83L603.8 1421.46L606.73 1402.2L609.67 1398.28L612.6 1403.12L615.53 1423.34L618.47 1416.39L621.4 1413.7L624.34 1429.77L627.27 1410.5L630.2 1398.81L633.14 1410.21L636.07 1395.11L639.01 1384.3L641.94 1401.77L644.87 1412.35L647.81 1400.07L650.74 1398.14L653.68 1412.8L656.61 1397.94L659.54 1391.34L662.48 1424.32L665.41 1433.09L668.35 1406.12L671.28 1435.2L674.21 1408.15L677.15 1382.05L680.08 1411.2L683.02 1412.39L685.95 1379.14L688.88 1420.07L691.82 1409.72L694.75 1395.89L697.69 1416.76L700.62 1410.62L703.55 1388.35L706.49 1401.85L709.42 1400.78L712.36 1383.1L715.29 1407.46L718.22 1415.87L721.16 1460.33L724.09 1469.81L727.03 1461.98L729.96 1438.69L732.89 1435.95L735.83 1408.56L738.76 1389.78L741.7 1401.81L744.63 1441.37L747.56 1438.14" fill="none" stroke="#EDA033" stroke-width="2.9" stroke-linejoin="round"/>
<path d="M175.43 1669.74L178.37 1657.63L181.3 1613.26L184.24 1591.56L187.17 1616.03L190.1 1606.57L193.04 1587.84L195.97 1625.42L198.91 1652.81L201.84 1659.66L204.77 1652.28L207.71 1698.78L210.64 1670.57L213.58 1630.16L216.51 1605.98L219.44 1608.28L222.38 1586.18L225.31 1576.34L228.25 1575.06L231.18 1543.41L234.11 1551.53L237.05 1519.4L239.98 1520.97L242.92 1554.23L245.85 1605.74L248.78 1568.91L251.72 1582.63L254.65 1601.96L257.59 1613.45L260.52 1587.47L263.45 1636.87L266.39 1631.74L269.32 1633.63L272.26 1611.19L275.19 1615.32L278.12 1576.72L281.06 1574.08L283.99 1557.8L286.93 1560.18L289.86 1543.84L292.79 1566.54L295.73 1562.44L298.66 1556.21L301.6 1528.02L304.53 1568.99L307.46 1559.94L310.4 1596.43L313.33 1588.86L316.27 1643.28L319.2 1625.68L322.13 1654.12L325.07 1632.55L328 1593.42L330.94 1566.23L333.87 1558.05L336.8 1539.38L339.74 1537.92L342.67 1573.27L345.61 1579.77L348.54 1589.21L351.47 1588.38L354.41 1599.87L357.34 1592.44L360.28 1569.82L363.21 1553.6L366.14 1557.78L369.08 1555.22L372.01 1550.63L374.95 1534.98L377.88 1537.54L380.81 1548.91L383.75 1568.46L386.68 1565.19L389.62 1594.21L392.55 1617.96L395.48 1600.82L398.42 1564.16L401.35 1589.75L404.29 1586.96L407.22 1568.94L410.15 1563.06L413.09 1562.35L416.02 1555.76L418.96 1545.58L421.89 1557.29L424.82 1564.5L427.76 1573.22L430.69 1567.28L433.63 1564.18L436.56 1537.88L439.49 1483.05L442.43 1486.61L445.36 1488.59L448.3 1500.2L451.23 1531.73L454.16 1578.42L457.1 1565.14L460.03 1551.07L462.97 1547.9L465.9 1553.62L468.83 1562.23L471.77 1586.13L474.7 1609.19L477.64 1603.25L480.57 1569.59L483.5 1554.11L486.44 1524.79L489.37 1528.41L492.31 1529.15L495.24 1543.81L498.17 1580.19L501.11 1606.23L504.04 1610.49L506.98 1624.85L509.91 1619.58L512.84 1605.61L515.78 1600.92L518.71 1573.86L521.65 1588.54L524.58 1575.71L527.51 1562.92L530.45 1554.98L533.38 1569.77L536.32 1539.21L539.25 1538.09L542.18 1521.97L545.12 1513.08L548.05 1509.29L550.99 1523.85L553.92 1524.58L556.85 1525.31L559.79 1549.63L562.72 1508.64L565.66 1495.04L568.59 1486.55L571.52 1518.53L574.46 1504.52L577.39 1546.23L580.33 1582.48L583.26 1627.82L586.19 1599.95L589.13 1596.01L592.06 1604.68L595 1573.52L597.93 1559.81L600.86 1546.05L603.8 1549.83L606.73 1526.86L609.67 1521.81L612.6 1525.94L615.53 1547.95L618.47 1538.28L621.4 1533.56L624.34 1550.51L627.27 1527.77L630.2 1513.64L633.14 1526.49L636.07 1508.35L639.01 1495.12L641.94 1518.31L644.87 1533.33L647.81 1521.58L650.74 1521.94L653.68 1541.87L656.61 1522.14L659.54 1512.12L662.48 1548.54L665.41 1556.39L668.35 1522.95L671.28 1554.29L674.21 1520.92L677.15 1488.17L680.08 1527.07L683.02 1533.3L685.95 1498.72L688.88 1551.22L691.82 1535.97L694.75 1516.56L697.69 1537.91L700.62 1527.66L703.55 1498.49L706.49 1518.23L709.42 1520.88L712.36 1503.74L715.29 1530.82L718.22 1538.8L721.16 1587.77L724.09 1596.49L727.03 1586.12L729.96 1558.21L732.89 1553.53L735.83 1520.5L738.76 1497.06L741.7 1510.64L744.63 1555.52L747.56 1551.34" fill="none" stroke="#E2602F" stroke-width="2.9" stroke-linejoin="round"/>
<path d="M175.43 1604.68L178.37 1592.33L181.3 1549.21L184.24 1527.98L187.17 1554.04L190.1 1547.86L193.04 1532.81L195.97 1567.06L198.91 1591.66L201.84 1596.49L204.77 1587.61L207.71 1630.74L210.64 1604.68L213.58 1567.06L216.51 1545.16L219.44 1548.53L222.38 1528.66L225.31 1520.46L228.25 1519.78L231.18 1490.36L234.11 1498.56L237.05 1468.8L239.98 1468.8L242.92 1498.56L245.85 1545.84L248.78 1510.91L251.72 1523.94L254.65 1542.36L257.59 1553.36L260.52 1528.66L263.45 1575.26L266.39 1569.76L269.32 1571.11L272.26 1549.21L275.19 1552.69L278.12 1515.63L281.06 1515.63L283.99 1502.71L286.93 1507.43L289.86 1494.4L292.79 1516.42L295.73 1512.93L298.66 1507.43L301.6 1480.7L304.53 1515.63L307.46 1502.71L310.4 1532.81L313.33 1524.61L316.27 1575.26L319.2 1557.4L322.13 1583.46L325.07 1562.23L328 1524.61L330.94 1498.56L333.87 1490.36L336.8 1472.51L339.74 1472.51L342.67 1506.76L345.61 1514.28L348.54 1524.61L351.47 1525.29L354.41 1537.64L357.34 1529.33L360.28 1506.76L363.21 1490.36L366.14 1495.19L369.08 1493.73L372.01 1490.36L374.95 1476.66L377.88 1477.34L380.81 1486.21L383.75 1502.71L386.68 1498.56L389.62 1524.61L392.55 1545.84L395.48 1533.49L398.42 1502.71L401.35 1525.29L404.29 1521.13L407.22 1502.71L410.15 1498.56L413.09 1499.23L416.02 1494.4L418.96 1486.21L421.89 1498.56L424.82 1506.76L427.76 1516.42L430.69 1510.24L433.63 1506.76L436.56 1481.49L439.49 1430.06L442.43 1432.86L445.36 1434.21L448.3 1444.43L451.23 1473.18L454.16 1516.42L457.1 1503.39L460.03 1489.69L462.97 1486.21L465.9 1491.04L468.83 1498.56L471.77 1520.46L474.7 1541.68L477.64 1537.64L480.57 1507.43L483.5 1494.4L486.44 1468.46L489.37 1471.83L492.31 1472.51L495.24 1486.21L498.17 1520.46L501.11 1545.16L504.04 1549.21L506.98 1562.91L509.91 1558.19L512.84 1545.16L515.78 1541.01L518.71 1515.63L521.65 1528.66L524.58 1515.63L527.51 1502.71L530.45 1494.4L533.38 1507.43L536.32 1478.01L539.25 1477.34L542.18 1462.74L545.12 1454.88L548.05 1451.73L550.99 1464.53L553.92 1464.53L556.85 1464.53L559.79 1486.43L562.72 1448.02L565.66 1435.11L568.59 1426.91L571.52 1456.22L574.46 1443.42L577.39 1481.94L580.33 1515.85L583.26 1558.75L586.19 1532.36L589.13 1528.66L592.06 1536.85L595 1507.54L597.93 1494.74L600.86 1481.94L603.8 1485.65L606.73 1464.53L609.67 1460.04L612.6 1464.53L615.53 1485.65L618.47 1477.34L621.4 1473.63L624.34 1490.14L627.27 1469.14L630.2 1456.22L633.14 1468.35L636.07 1451.73L639.01 1439.71L641.94 1460.04L644.87 1472.84L647.81 1460.83L650.74 1460.04L653.68 1477.34L656.61 1460.04L659.54 1451.73L662.48 1486.43L665.41 1494.74L668.35 1464.53L671.28 1494.74L674.21 1464.53L677.15 1435.11L680.08 1469.14L683.02 1472.84L685.95 1438.93L688.88 1485.65L691.82 1472.84L694.75 1456.22L697.69 1477.34L700.62 1469.14L703.55 1443.42L706.49 1460.04L709.42 1460.83L712.36 1443.42L715.29 1469.14L718.22 1477.34L721.16 1524.05L724.09 1533.15L727.03 1524.05L729.96 1498.45L732.89 1494.74L735.83 1464.53L738.76 1443.42L741.7 1456.22L744.63 1498.45L747.56 1494.74" fill="none" stroke="#2C1818" stroke-width="4.2" stroke-linejoin="round"/>
<g fill="#2C1818"><circle cx="175.43" cy="1604.68" r="3.95"/><circle cx="178.37" cy="1592.33" r="3.95"/><circle cx="181.3" cy="1549.21" r="3.95"/><circle cx="184.24" cy="1527.98" r="3.95"/><circle cx="187.17" cy="1554.04" r="3.95"/><circle cx="190.1" cy="1547.86" r="3.95"/><circle cx="193.04" cy="1532.81" r="3.95"/><circle cx="195.97" cy="1567.06" r="3.95"/><circle cx="198.91" cy="1591.66" r="3.95"/><circle cx="201.84" cy="1596.49" r="3.95"/><circle cx="204.77" cy="1587.61" r="3.95"/><circle cx="207.71" cy="1630.74" r="3.95"/><circle cx="210.64" cy="1604.68" r="3.95"/><circle cx="213.58" cy="1567.06" r="3.95"/><circle cx="216.51" cy="1545.16" r="3.95"/><circle cx="219.44" cy="1548.53" r="3.95"/><circle cx="222.38" cy="1528.66" r="3.95"/><circle cx="225.31" cy="1520.46" r="3.95"/><circle cx="228.25" cy="1519.78" r="3.95"/><circle cx="231.18" cy="1490.36" r="3.95"/><circle cx="234.11" cy="1498.56" r="3.95"/><circle cx="237.05" cy="1468.8" r="3.95"/><circle cx="239.98" cy="1468.8" r="3.95"/><circle cx="242.92" cy="1498.56" r="3.95"/><circle cx="245.85" cy="1545.84" r="3.95"/><circle cx="248.78" cy="1510.91" r="3.95"/><circle cx="251.72" cy="1523.94" r="3.95"/><circle cx="254.65" cy="1542.36" r="3.95"/><circle cx="257.59" cy="1553.36" r="3.95"/><circle cx="260.52" cy="1528.66" r="3.95"/><circle cx="263.45" cy="1575.26" r="3.95"/><circle cx="266.39" cy="1569.76" r="3.95"/><circle cx="269.32" cy="1571.11" r="3.95"/><circle cx="272.26" cy="1549.21" r="3.95"/><circle cx="275.19" cy="1552.69" r="3.95"/><circle cx="278.12" cy="1515.63" r="3.95"/><circle cx="281.06" cy="1515.63" r="3.95"/><circle cx="283.99" cy="1502.71" r="3.95"/><circle cx="286.93" cy="1507.43" r="3.95"/><circle cx="289.86" cy="1494.4" r="3.95"/><circle cx="292.79" cy="1516.42" r="3.95"/><circle cx="295.73" cy="1512.93" r="3.95"/><circle cx="298.66" cy="1507.43" r="3.95"/><circle cx="301.6" cy="1480.7" r="3.95"/><circle cx="304.53" cy="1515.63" r="3.95"/><circle cx="307.46" cy="1502.71" r="3.95"/><circle cx="310.4" cy="1532.81" r="3.95"/><circle cx="313.33" cy="1524.61" r="3.95"/><circle cx="316.27" cy="1575.26" r="3.95"/><circle cx="319.2" cy="1557.4" r="3.95"/><circle cx="322.13" cy="1583.46" r="3.95"/><circle cx="325.07" cy="1562.23" r="3.95"/><circle cx="328" cy="1524.61" r="3.95"/><circle cx="330.94" cy="1498.56" r="3.95"/><circle cx="333.87" cy="1490.36" r="3.95"/><circle cx="336.8" cy="1472.51" r="3.95"/><circle cx="339.74" cy="1472.51" r="3.95"/><circle cx="342.67" cy="1506.76" r="3.95"/><circle cx="345.61" cy="1514.28" r="3.95"/><circle cx="348.54" cy="1524.61" r="3.95"/><circle cx="351.47" cy="1525.29" r="3.95"/><circle cx="354.41" cy="1537.64" r="3.95"/><circle cx="357.34" cy="1529.33" r="3.95"/><circle cx="360.28" cy="1506.76" r="3.95"/><circle cx="363.21" cy="1490.36" r="3.95"/><circle cx="366.14" cy="1495.19" r="3.95"/><circle cx="369.08" cy="1493.73" r="3.95"/><circle cx="372.01" cy="1490.36" r="3.95"/><circle cx="374.95" cy="1476.66" r="3.95"/><circle cx="377.88" cy="1477.34" r="3.95"/><circle cx="380.81" cy="1486.21" r="3.95"/><circle cx="383.75" cy="1502.71" r="3.95"/><circle cx="386.68" cy="1498.56" r="3.95"/><circle cx="389.62" cy="1524.61" r="3.95"/><circle cx="392.55" cy="1545.84" r="3.95"/><circle cx="395.48" cy="1533.49" r="3.95"/><circle cx="398.42" cy="1502.71" r="3.95"/><circle cx="401.35" cy="1525.29" r="3.95"/><circle cx="404.29" cy="1521.13" r="3.95"/><circle cx="407.22" cy="1502.71" r="3.95"/><circle cx="410.15" cy="1498.56" r="3.95"/><circle cx="413.09" cy="1499.23" r="3.95"/><circle cx="416.02" cy="1494.4" r="3.95"/><circle cx="418.96" cy="1486.21" r="3.95"/><circle cx="421.89" cy="1498.56" r="3.95"/><circle cx="424.82" cy="1506.76" r="3.95"/><circle cx="427.76" cy="1516.42" r="3.95"/><circle cx="430.69" cy="1510.24" r="3.95"/><circle cx="433.63" cy="1506.76" r="3.95"/><circle cx="436.56" cy="1481.49" r="3.95"/><circle cx="439.49" cy="1430.06" r="3.95"/><circle cx="442.43" cy="1432.86" r="3.95"/><circle cx="445.36" cy="1434.21" r="3.95"/><circle cx="448.3" cy="1444.43" r="3.95"/><circle cx="451.23" cy="1473.18" r="3.95"/><circle cx="454.16" cy="1516.42" r="3.95"/><circle cx="457.1" cy="1503.39" r="3.95"/><circle cx="460.03" cy="1489.69" r="3.95"/><circle cx="462.97" cy="1486.21" r="3.95"/><circle cx="465.9" cy="1491.04" r="3.95"/><circle cx="468.83" cy="1498.56" r="3.95"/><circle cx="471.77" cy="1520.46" r="3.95"/><circle cx="474.7" cy="1541.68" r="3.95"/><circle cx="477.64" cy="1537.64" r="3.95"/><circle cx="480.57" cy="1507.43" r="3.95"/><circle cx="483.5" cy="1494.4" r="3.95"/><circle cx="486.44" cy="1468.46" r="3.95"/><circle cx="489.37" cy="1471.83" r="3.95"/><circle cx="492.31" cy="1472.51" r="3.95"/><circle cx="495.24" cy="1486.21" r="3.95"/><circle cx="498.17" cy="1520.46" r="3.95"/><circle cx="501.11" cy="1545.16" r="3.95"/><circle cx="504.04" cy="1549.21" r="3.95"/><circle cx="506.98" cy="1562.91" r="3.95"/><circle cx="509.91" cy="1558.19" r="3.95"/><circle cx="512.84" cy="1545.16" r="3.95"/><circle cx="515.78" cy="1541.01" r="3.95"/><circle cx="518.71" cy="1515.63" r="3.95"/><circle cx="521.65" cy="1528.66" r="3.95"/><circle cx="524.58" cy="1515.63" r="3.95"/><circle cx="527.51" cy="1502.71" r="3.95"/><circle cx="530.45" cy="1494.4" r="3.95"/><circle cx="533.38" cy="1507.43" r="3.95"/><circle cx="536.32" cy="1478.01" r="3.95"/><circle cx="539.25" cy="1477.34" r="3.95"/><circle cx="542.18" cy="1462.74" r="3.95"/><circle cx="545.12" cy="1454.88" r="3.95"/><circle cx="548.05" cy="1451.73" r="3.95"/><circle cx="550.99" cy="1464.53" r="3.95"/><circle cx="553.92" cy="1464.53" r="3.95"/><circle cx="556.85" cy="1464.53" r="3.95"/><circle cx="559.79" cy="1486.43" r="3.95"/><circle cx="562.72" cy="1448.02" r="3.95"/><circle cx="565.66" cy="1435.11" r="3.95"/><circle cx="568.59" cy="1426.91" r="3.95"/><circle cx="571.52" cy="1456.22" r="3.95"/><circle cx="574.46" cy="1443.42" r="3.95"/><circle cx="577.39" cy="1481.94" r="3.95"/><circle cx="580.33" cy="1515.85" r="3.95"/><circle cx="583.26" cy="1558.75" r="3.95"/><circle cx="586.19" cy="1532.36" r="3.95"/><circle cx="589.13" cy="1528.66" r="3.95"/><circle cx="592.06" cy="1536.85" r="3.95"/><circle cx="595" cy="1507.54" r="3.95"/><circle cx="597.93" cy="1494.74" r="3.95"/><circle cx="600.86" cy="1481.94" r="3.95"/><circle cx="603.8" cy="1485.65" r="3.95"/><circle cx="606.73" cy="1464.53" r="3.95"/><circle cx="609.67" cy="1460.04" r="3.95"/><circle cx="612.6" cy="1464.53" r="3.95"/><circle cx="615.53" cy="1485.65" r="3.95"/><circle cx="618.47" cy="1477.34" r="3.95"/><circle cx="621.4" cy="1473.63" r="3.95"/><circle cx="624.34" cy="1490.14" r="3.95"/><circle cx="627.27" cy="1469.14" r="3.95"/><circle cx="630.2" cy="1456.22" r="3.95"/><circle cx="633.14" cy="1468.35" r="3.95"/><circle cx="636.07" cy="1451.73" r="3.95"/><circle cx="639.01" cy="1439.71" r="3.95"/><circle cx="641.94" cy="1460.04" r="3.95"/><circle cx="644.87" cy="1472.84" r="3.95"/><circle cx="647.81" cy="1460.83" r="3.95"/><circle cx="650.74" cy="1460.04" r="3.95"/><circle cx="653.68" cy="1477.34" r="3.95"/><circle cx="656.61" cy="1460.04" r="3.95"/><circle cx="659.54" cy="1451.73" r="3.95"/><circle cx="662.48" cy="1486.43" r="3.95"/><circle cx="665.41" cy="1494.74" r="3.95"/><circle cx="668.35" cy="1464.53" r="3.95"/><circle cx="671.28" cy="1494.74" r="3.95"/><circle cx="674.21" cy="1464.53" r="3.95"/><circle cx="677.15" cy="1435.11" r="3.95"/><circle cx="680.08" cy="1469.14" r="3.95"/><circle cx="683.02" cy="1472.84" r="3.95"/><circle cx="685.95" cy="1438.93" r="3.95"/><circle cx="688.88" cy="1485.65" r="3.95"/><circle cx="691.82" cy="1472.84" r="3.95"/><circle cx="694.75" cy="1456.22" r="3.95"/><circle cx="697.69" cy="1477.34" r="3.95"/><circle cx="700.62" cy="1469.14" r="3.95"/><circle cx="703.55" cy="1443.42" r="3.95"/><circle cx="706.49" cy="1460.04" r="3.95"/><circle cx="709.42" cy="1460.83" r="3.95"/><circle cx="712.36" cy="1443.42" r="3.95"/><circle cx="715.29" cy="1469.14" r="3.95"/><circle cx="718.22" cy="1477.34" r="3.95"/><circle cx="721.16" cy="1524.05" r="3.95"/><circle cx="724.09" cy="1533.15" r="3.95"/><circle cx="727.03" cy="1524.05" r="3.95"/><circle cx="729.96" cy="1498.45" r="3.95"/><circle cx="732.89" cy="1494.74" r="3.95"/><circle cx="735.83" cy="1464.53" r="3.95"/><circle cx="738.76" cy="1443.42" r="3.95"/><circle cx="741.7" cy="1456.22" r="3.95"/><circle cx="744.63" cy="1498.45" r="3.95"/><circle cx="747.56" cy="1494.74" r="3.95"/></g>
<path d="M175.43 1600.73A3.95 3.95 0 0 0 175.43 1608.63Z" fill="#000"/>
<path d="M747.56 1490.79A3.95 3.95 0 0 1 747.56 1498.69Z" fill="#000"/>
<path d="M163.75 1313V1763.7H757.7" fill="none" stroke="#262626" stroke-width="3.0" stroke-linejoin="miter"/>
<path d="M172.5 1763.7v-7.2M319.2 1763.7v-7.2M465.9 1763.7v-7.2M612.6 1763.7v-7.2M163.75 1763.7h7.2M163.75 1651.4h7.2M163.75 1539.1h7.2M163.75 1426.8h7.2M163.75 1314.5h7.2" fill="none" stroke="#262626" stroke-width="3.0"/>
<g font-size="43" fill="#262626"><text x="174.15" y="1814.5" text-anchor="middle">0</text><text x="322.5" y="1814.5" text-anchor="middle">50</text><text x="470.85" y="1814.5" text-anchor="middle">100</text><text x="617.55" y="1814.5" text-anchor="middle">150</text><text x="147.65" y="1778.7" text-anchor="end">50</text><text x="147.65" y="1666.4" text-anchor="end">60</text><text x="147.65" y="1554.1" text-anchor="end">70</text><text x="147.65" y="1441.8" text-anchor="end">80</text><text x="147.65" y="1329.5" text-anchor="end">90</text></g>
<text x="418.6" y="1299.9" font-size="44" font-weight="bold" fill="#000" letter-spacing="1.2">zy1</text>
<circle cx="876.57" cy="1630.51" r="3.95" fill="#000"/>
<circle cx="1453.79" cy="1460.94" r="3.95" fill="#000"/>
<path d="M876.57 1559.6L879.52 1555.58L882.46 1568.2L885.41 1542.35L888.35 1525.94L891.3 1512.82L894.24 1508.86L897.19 1464.05L900.13 1457.62L903.08 1454.35L906.02 1453.72L908.97 1451.2L911.91 1489.3L914.86 1486L917.8 1489.3L920.75 1476.33L923.69 1464.69L926.64 1447.31L929.58 1460.78L932.53 1451.83L935.47 1435.78L938.42 1428.16L941.36 1415.48L944.31 1399.05L947.25 1391.55L950.2 1400.39L953.14 1391.55L956.09 1379.69L959.03 1372.26L961.98 1359.31L964.92 1364.86L967.87 1392.17L970.81 1383.46L973.76 1390.94L976.7 1432.02L979.65 1436.51L982.59 1411.75L985.54 1411.75L988.48 1399.77L991.43 1359.91L994.37 1365.47L997.32 1371.04L1000.26 1376.63L1003.21 1382.24L1006.15 1388.48L1009.1 1355.58L1012.04 1348.85L1014.99 1354.98L1017.93 1359.91L1020.88 1379.69L1023.82 1395.97L1026.77 1419.94L1029.71 1411.75L1032.66 1428.16L1035.6 1407.92L1038.55 1399.77L1041.49 1379.69L1044.44 1368.51L1047.38 1337.28L1050.33 1368.51L1053.27 1374.7L1056.22 1379.69L1059.16 1396.58L1062.11 1411.75L1065.05 1403.48L1068 1416.1L1070.94 1407.3L1073.89 1411.75L1076.83 1415.48L1079.78 1387.25L1082.72 1386.53L1085.67 1395.35L1088.61 1367.9L1091.56 1376.02L1094.5 1411.03L1097.45 1403.48L1100.39 1399.05L1103.34 1432.02L1106.28 1415.48L1109.23 1375.41L1112.17 1379.69L1115.12 1391.55L1118.06 1387.25L1121.01 1387.25L1123.95 1399.05L1126.9 1403.48L1129.84 1415.48L1132.79 1415.48L1135.73 1432.02L1138.68 1464.69L1141.62 1460.78L1144.57 1431.4L1147.51 1439.65L1150.46 1439.65L1153.4 1399.77L1156.35 1387.25L1159.29 1391.55L1162.24 1387.25L1165.18 1387.25L1168.13 1415.48L1171.07 1419.94L1174.02 1415.48L1176.96 1407.3L1179.91 1415.48L1182.85 1375.41L1185.8 1399.05L1188.74 1399.05L1191.69 1399.05L1194.63 1383.46L1197.58 1411.75L1200.52 1394.73L1203.47 1403.48L1206.41 1399.05L1209.36 1423.79L1212.3 1422.85L1215.25 1419.32L1218.19 1379.69L1221.14 1399.05L1224.08 1387.86L1227.03 1407.3L1229.97 1427.54L1232.92 1411.75L1235.86 1402.86L1238.81 1419.32L1241.75 1395.35L1244.7 1387.76L1247.64 1395.97L1250.59 1408.23L1253.53 1392.27L1256.48 1371.75L1259.42 1384.08L1262.37 1400.6L1265.31 1388.17L1268.26 1378.57L1271.2 1367.59L1274.15 1374.5L1277.09 1374.5L1280.04 1371.75L1282.98 1371.75L1285.93 1408.23L1288.87 1395.04L1291.82 1406.06L1294.76 1428.37L1297.71 1424.21L1300.65 1390.94L1303.6 1412.37L1306.54 1363.55L1309.49 1363.55L1312.43 1374.5L1315.38 1383.36L1318.32 1379.28L1321.27 1396.38L1324.21 1383.36L1327.16 1396.38L1330.1 1388.17L1333.05 1363.55L1335.99 1370.33L1338.94 1375.82L1341.88 1395.76L1344.83 1400.6L1347.77 1404.72L1350.72 1399.16L1353.66 1404L1356.61 1379.89L1359.55 1388.17L1362.5 1388.17L1365.44 1384.08L1368.39 1371.75L1371.33 1366.99L1374.28 1360.21L1377.22 1360.21L1380.17 1364.25L1383.11 1360.21L1386.06 1352.06L1389 1340.66L1391.95 1340.66L1394.89 1344.65L1397.84 1337.28L1400.78 1337.28L1403.73 1371.75L1406.67 1395.76L1409.62 1395.76L1412.56 1404L1415.51 1440.28L1418.45 1415.79L1421.4 1387.45L1424.34 1400.6L1427.29 1412.37L1430.23 1363.55L1433.18 1371.75L1436.12 1408.23L1439.07 1383.36L1442.01 1390.94L1444.96 1408.23L1447.9 1424.21L1450.85 1399.16L1453.79 1399.46L1453.79 1522.41L1450.85 1522.05L1447.9 1551.35L1444.96 1532.74L1442.01 1512.3L1439.07 1503.25L1436.12 1532.74L1433.18 1489.26L1430.23 1479.27L1427.29 1537.58L1424.34 1523.75L1421.4 1508.15L1418.45 1541.57L1415.51 1569.86L1412.56 1527.76L1409.62 1518.03L1406.67 1518.03L1403.73 1489.26L1400.78 1446.7L1397.84 1446.7L1394.89 1455.94L1391.95 1450.95L1389 1450.95L1386.06 1465.15L1383.11 1475.19L1380.17 1480.14L1377.22 1475.19L1374.28 1475.19L1371.33 1483.47L1368.39 1489.26L1365.44 1504.11L1362.5 1509L1359.55 1509L1356.61 1499.09L1353.66 1527.76L1350.72 1522.05L1347.77 1528.61L1344.83 1523.75L1341.88 1518.03L1338.94 1494.18L1335.99 1487.54L1333.05 1479.27L1330.1 1509L1327.16 1518.76L1324.21 1503.25L1321.27 1518.76L1318.32 1498.35L1315.38 1503.25L1312.43 1492.58L1309.49 1479.27L1306.54 1479.27L1303.6 1537.58L1300.65 1512.3L1297.71 1551.35L1294.76 1556.17L1291.82 1530.19L1288.87 1517.18L1285.93 1532.74L1282.98 1489.26L1280.04 1489.26L1277.09 1492.58L1274.15 1492.58L1271.2 1484.21L1268.26 1497.49L1265.31 1509L1262.37 1523.75L1259.42 1504.11L1256.48 1489.26L1253.53 1513.89L1250.59 1532.74L1247.64 1518.28L1244.7 1508.51L1241.75 1517.54L1238.81 1545.68L1235.86 1526.43L1232.92 1536.86L1229.97 1555.21L1227.03 1531.65L1224.08 1508.64L1221.14 1521.93L1218.19 1498.84L1215.25 1545.68L1212.3 1549.79L1209.36 1550.87L1206.41 1521.93L1203.47 1527.15L1200.52 1516.81L1197.58 1536.86L1194.63 1503.38L1191.69 1521.93L1188.74 1521.93L1185.8 1521.93L1182.85 1493.69L1179.91 1541.21L1176.96 1531.65L1174.02 1541.21L1171.07 1546.41L1168.13 1541.21L1165.18 1507.9L1162.24 1507.9L1159.29 1513.03L1156.35 1507.9L1153.4 1522.78L1150.46 1569.14L1147.51 1569.14L1144.57 1559.66L1141.62 1593.16L1138.68 1597.57L1135.73 1560.38L1132.79 1541.21L1129.84 1541.21L1126.9 1527.15L1123.95 1521.93L1121.01 1507.9L1118.06 1507.9L1115.12 1513.03L1112.17 1498.84L1109.23 1493.69L1106.28 1541.21L1103.34 1560.38L1100.39 1521.93L1097.45 1527.15L1094.5 1536.01L1091.56 1494.42L1088.61 1484.58L1085.67 1517.54L1082.72 1507.05L1079.78 1507.9L1076.83 1541.21L1073.89 1536.86L1070.94 1531.65L1068 1541.94L1065.05 1527.15L1062.11 1536.86L1059.16 1519.01L1056.22 1498.84L1053.27 1492.83L1050.33 1485.32L1047.38 1446.7L1044.44 1485.32L1041.49 1498.84L1038.55 1522.78L1035.6 1532.37L1032.66 1555.93L1029.71 1536.86L1026.77 1546.41L1023.82 1518.28L1020.88 1498.84L1017.93 1474.82L1014.99 1468.75L1012.04 1461.17L1009.1 1469.5L1006.15 1509.37L1003.21 1501.91L1000.26 1495.16L997.32 1488.4L994.37 1481.62L991.43 1474.82L988.48 1522.78L985.54 1536.86L982.59 1536.86L979.65 1565.55L976.7 1560.38L973.76 1512.3L970.81 1503.38L967.87 1513.76L964.92 1480.88L961.98 1474.08L959.03 1489.88L956.09 1498.84L953.14 1513.03L950.2 1523.51L947.25 1513.03L944.31 1521.93L941.36 1541.21L938.42 1555.93L935.47 1564.71L932.53 1583.03L929.58 1593.16L926.64 1577.89L923.69 1597.57L920.75 1610.63L917.8 1625.06L914.86 1621.4L911.91 1625.06L908.97 1582.31L906.02 1585.17L903.08 1585.89L900.13 1589.59L897.19 1596.85L894.24 1646.61L891.3 1650.95L888.35 1665.23L885.41 1682.96L882.46 1710.57L879.52 1697.13L876.57 1701.42Z" fill="#FDE5E4" stroke="#FDE5E4" stroke-width="1" stroke-linejoin="miter" stroke-miterlimit="6"/>
<path d="M876.57 1559.6L879.52 1555.58L882.46 1568.2L885.41 1542.35L888.35 1525.94L891.3 1512.82L894.24 1508.86L897.19 1464.05L900.13 1457.62L903.08 1454.35L906.02 1453.72L908.97 1451.2L911.91 1489.3L914.86 1486L917.8 1489.3L920.75 1476.33L923.69 1464.69L926.64 1447.31L929.58 1460.78L932.53 1451.83L935.47 1435.78L938.42 1428.16L941.36 1415.48L944.31 1399.05L947.25 1391.55L950.2 1400.39L953.14 1391.55L956.09 1379.69L959.03 1372.26L961.98 1359.31L964.92 1364.86L967.87 1392.17L970.81 1383.46L973.76 1390.94L976.7 1432.02L979.65 1436.51L982.59 1411.75L985.54 1411.75L988.48 1399.77L991.43 1359.91L994.37 1365.47L997.32 1371.04L1000.26 1376.63L1003.21 1382.24L1006.15 1388.48L1009.1 1355.58L1012.04 1348.85L1014.99 1354.98L1017.93 1359.91L1020.88 1379.69L1023.82 1395.97L1026.77 1419.94L1029.71 1411.75L1032.66 1428.16L1035.6 1407.92L1038.55 1399.77L1041.49 1379.69L1044.44 1368.51L1047.38 1337.28L1050.33 1368.51L1053.27 1374.7L1056.22 1379.69L1059.16 1396.58L1062.11 1411.75L1065.05 1403.48L1068 1416.1L1070.94 1407.3L1073.89 1411.75L1076.83 1415.48L1079.78 1387.25L1082.72 1386.53L1085.67 1395.35L1088.61 1367.9L1091.56 1376.02L1094.5 1411.03L1097.45 1403.48L1100.39 1399.05L1103.34 1432.02L1106.28 1415.48L1109.23 1375.41L1112.17 1379.69L1115.12 1391.55L1118.06 1387.25L1121.01 1387.25L1123.95 1399.05L1126.9 1403.48L1129.84 1415.48L1132.79 1415.48L1135.73 1432.02L1138.68 1464.69L1141.62 1460.78L1144.57 1431.4L1147.51 1439.65L1150.46 1439.65L1153.4 1399.77L1156.35 1387.25L1159.29 1391.55L1162.24 1387.25L1165.18 1387.25L1168.13 1415.48L1171.07 1419.94L1174.02 1415.48L1176.96 1407.3L1179.91 1415.48L1182.85 1375.41L1185.8 1399.05L1188.74 1399.05L1191.69 1399.05L1194.63 1383.46L1197.58 1411.75L1200.52 1394.73L1203.47 1403.48L1206.41 1399.05L1209.36 1423.79L1212.3 1422.85L1215.25 1419.32L1218.19 1379.69L1221.14 1399.05L1224.08 1387.86L1227.03 1407.3L1229.97 1427.54L1232.92 1411.75L1235.86 1402.86L1238.81 1419.32L1241.75 1395.35L1244.7 1387.76L1247.64 1395.97L1250.59 1408.23L1253.53 1392.27L1256.48 1371.75L1259.42 1384.08L1262.37 1400.6L1265.31 1388.17L1268.26 1378.57L1271.2 1367.59L1274.15 1374.5L1277.09 1374.5L1280.04 1371.75L1282.98 1371.75L1285.93 1408.23L1288.87 1395.04L1291.82 1406.06L1294.76 1428.37L1297.71 1424.21L1300.65 1390.94L1303.6 1412.37L1306.54 1363.55L1309.49 1363.55L1312.43 1374.5L1315.38 1383.36L1318.32 1379.28L1321.27 1396.38L1324.21 1383.36L1327.16 1396.38L1330.1 1388.17L1333.05 1363.55L1335.99 1370.33L1338.94 1375.82L1341.88 1395.76L1344.83 1400.6L1347.77 1404.72L1350.72 1399.16L1353.66 1404L1356.61 1379.89L1359.55 1388.17L1362.5 1388.17L1365.44 1384.08L1368.39 1371.75L1371.33 1366.99L1374.28 1360.21L1377.22 1360.21L1380.17 1364.25L1383.11 1360.21L1386.06 1352.06L1389 1340.66L1391.95 1340.66L1394.89 1344.65L1397.84 1337.28L1400.78 1337.28L1403.73 1371.75L1406.67 1395.76L1409.62 1395.76L1412.56 1404L1415.51 1440.28L1418.45 1415.79L1421.4 1387.45L1424.34 1400.6L1427.29 1412.37L1430.23 1363.55L1433.18 1371.75L1436.12 1408.23L1439.07 1383.36L1442.01 1390.94L1444.96 1408.23L1447.9 1424.21L1450.85 1399.16L1453.79 1399.46" fill="none" stroke="#EDA033" stroke-width="2.9" stroke-linejoin="round"/>
<path d="M876.57 1701.42L879.52 1697.13L882.46 1710.57L885.41 1682.96L888.35 1665.23L891.3 1650.95L894.24 1646.61L897.19 1596.85L900.13 1589.59L903.08 1585.89L906.02 1585.17L908.97 1582.31L911.91 1625.06L914.86 1621.4L917.8 1625.06L920.75 1610.63L923.69 1597.57L926.64 1577.89L929.58 1593.16L932.53 1583.03L935.47 1564.71L938.42 1555.93L941.36 1541.21L944.31 1521.93L947.25 1513.03L950.2 1523.51L953.14 1513.03L956.09 1498.84L959.03 1489.88L961.98 1474.08L964.92 1480.88L967.87 1513.76L970.81 1503.38L973.76 1512.3L976.7 1560.38L979.65 1565.55L982.59 1536.86L985.54 1536.86L988.48 1522.78L991.43 1474.82L994.37 1481.62L997.32 1488.4L1000.26 1495.16L1003.21 1501.91L1006.15 1509.37L1009.1 1469.5L1012.04 1461.17L1014.99 1468.75L1017.93 1474.82L1020.88 1498.84L1023.82 1518.28L1026.77 1546.41L1029.71 1536.86L1032.66 1555.93L1035.6 1532.37L1038.55 1522.78L1041.49 1498.84L1044.44 1485.32L1047.38 1446.7L1050.33 1485.32L1053.27 1492.83L1056.22 1498.84L1059.16 1519.01L1062.11 1536.86L1065.05 1527.15L1068 1541.94L1070.94 1531.65L1073.89 1536.86L1076.83 1541.21L1079.78 1507.9L1082.72 1507.05L1085.67 1517.54L1088.61 1484.58L1091.56 1494.42L1094.5 1536.01L1097.45 1527.15L1100.39 1521.93L1103.34 1560.38L1106.28 1541.21L1109.23 1493.69L1112.17 1498.84L1115.12 1513.03L1118.06 1507.9L1121.01 1507.9L1123.95 1521.93L1126.9 1527.15L1129.84 1541.21L1132.79 1541.21L1135.73 1560.38L1138.68 1597.57L1141.62 1593.16L1144.57 1559.66L1147.51 1569.14L1150.46 1569.14L1153.4 1522.78L1156.35 1507.9L1159.29 1513.03L1162.24 1507.9L1165.18 1507.9L1168.13 1541.21L1171.07 1546.41L1174.02 1541.21L1176.96 1531.65L1179.91 1541.21L1182.85 1493.69L1185.8 1521.93L1188.74 1521.93L1191.69 1521.93L1194.63 1503.38L1197.58 1536.86L1200.52 1516.81L1203.47 1527.15L1206.41 1521.93L1209.36 1550.87L1212.3 1549.79L1215.25 1545.68L1218.19 1498.84L1221.14 1521.93L1224.08 1508.64L1227.03 1531.65L1229.97 1555.21L1232.92 1536.86L1235.86 1526.43L1238.81 1545.68L1241.75 1517.54L1244.7 1508.51L1247.64 1518.28L1250.59 1532.74L1253.53 1513.89L1256.48 1489.26L1259.42 1504.11L1262.37 1523.75L1265.31 1509L1268.26 1497.49L1271.2 1484.21L1274.15 1492.58L1277.09 1492.58L1280.04 1489.26L1282.98 1489.26L1285.93 1532.74L1288.87 1517.18L1291.82 1530.19L1294.76 1556.17L1297.71 1551.35L1300.65 1512.3L1303.6 1537.58L1306.54 1479.27L1309.49 1479.27L1312.43 1492.58L1315.38 1503.25L1318.32 1498.35L1321.27 1518.76L1324.21 1503.25L1327.16 1518.76L1330.1 1509L1333.05 1479.27L1335.99 1487.54L1338.94 1494.18L1341.88 1518.03L1344.83 1523.75L1347.77 1528.61L1350.72 1522.05L1353.66 1527.76L1356.61 1499.09L1359.55 1509L1362.5 1509L1365.44 1504.11L1368.39 1489.26L1371.33 1483.47L1374.28 1475.19L1377.22 1475.19L1380.17 1480.14L1383.11 1475.19L1386.06 1465.15L1389 1450.95L1391.95 1450.95L1394.89 1455.94L1397.84 1446.7L1400.78 1446.7L1403.73 1489.26L1406.67 1518.03L1409.62 1518.03L1412.56 1527.76L1415.51 1569.86L1418.45 1541.57L1421.4 1508.15L1424.34 1523.75L1427.29 1537.58L1430.23 1479.27L1433.18 1489.26L1436.12 1532.74L1439.07 1503.25L1442.01 1512.3L1444.96 1532.74L1447.9 1551.35L1450.85 1522.05L1453.79 1522.41" fill="none" stroke="#E2602F" stroke-width="2.9" stroke-linejoin="round"/>
<path d="M876.57 1630.51L879.52 1626.36L882.46 1639.38L885.41 1612.66L888.35 1595.59L891.3 1581.89L894.24 1577.73L897.19 1530.45L900.13 1523.6L903.08 1520.12L906.02 1519.45L908.97 1516.75L911.91 1557.18L914.86 1553.7L917.8 1557.18L920.75 1543.48L923.69 1531.13L926.64 1512.6L929.58 1526.97L932.53 1517.43L935.47 1500.24L938.42 1492.05L941.36 1478.35L944.31 1460.49L947.25 1452.29L950.2 1461.95L953.14 1452.29L956.09 1439.27L959.03 1431.07L961.98 1416.69L964.92 1422.87L967.87 1452.97L970.81 1443.42L973.76 1451.62L976.7 1496.2L979.65 1501.03L982.59 1474.3L985.54 1474.3L988.48 1461.28L991.43 1417.37L994.37 1423.54L997.32 1429.72L1000.26 1435.9L1003.21 1442.07L1006.15 1448.92L1009.1 1412.54L1012.04 1405.01L1014.99 1411.86L1017.93 1417.37L1020.88 1439.27L1023.82 1457.12L1026.77 1483.17L1029.71 1474.3L1032.66 1492.05L1035.6 1470.15L1038.55 1461.28L1041.49 1439.27L1044.44 1426.91L1047.38 1391.99L1050.33 1426.91L1053.27 1433.76L1056.22 1439.27L1059.16 1457.79L1062.11 1474.3L1065.05 1465.32L1068 1479.02L1070.94 1469.47L1073.89 1474.3L1076.83 1478.35L1079.78 1447.58L1082.72 1446.79L1085.67 1456.45L1088.61 1426.24L1091.56 1435.22L1094.5 1473.52L1097.45 1465.32L1100.39 1460.49L1103.34 1496.2L1106.28 1478.35L1109.23 1434.55L1112.17 1439.27L1115.12 1452.29L1118.06 1447.58L1121.01 1447.58L1123.95 1460.49L1126.9 1465.32L1129.84 1478.35L1132.79 1478.35L1135.73 1496.2L1138.68 1531.13L1141.62 1526.97L1144.57 1495.53L1147.51 1504.4L1150.46 1504.4L1153.4 1461.28L1156.35 1447.58L1159.29 1452.29L1162.24 1447.58L1165.18 1447.58L1168.13 1478.35L1171.07 1483.17L1174.02 1478.35L1176.96 1469.47L1179.91 1478.35L1182.85 1434.55L1185.8 1460.49L1188.74 1460.49L1191.69 1460.49L1194.63 1443.42L1197.58 1474.3L1200.52 1455.77L1203.47 1465.32L1206.41 1460.49L1209.36 1487.33L1212.3 1486.32L1215.25 1482.5L1218.19 1439.27L1221.14 1460.49L1224.08 1448.25L1227.03 1469.47L1229.97 1491.37L1232.92 1474.3L1235.86 1464.65L1238.81 1482.5L1241.75 1456.45L1244.7 1448.14L1247.64 1457.12L1250.59 1470.48L1253.53 1453.08L1256.48 1430.51L1259.42 1444.09L1262.37 1462.17L1265.31 1448.59L1268.26 1438.03L1271.2 1425.9L1274.15 1433.54L1277.09 1433.54L1280.04 1430.51L1282.98 1430.51L1285.93 1470.48L1288.87 1456.11L1291.82 1468.13L1294.76 1492.27L1297.71 1487.78L1300.65 1451.62L1303.6 1474.98L1306.54 1421.41L1309.49 1421.41L1312.43 1433.54L1315.38 1443.31L1318.32 1438.82L1321.27 1457.57L1324.21 1443.31L1327.16 1457.57L1330.1 1448.59L1333.05 1421.41L1335.99 1428.93L1338.94 1435L1341.88 1456.9L1344.83 1462.17L1347.77 1466.67L1350.72 1460.6L1353.66 1465.88L1356.61 1439.49L1359.55 1448.59L1362.5 1448.59L1365.44 1444.09L1368.39 1430.51L1371.33 1425.23L1374.28 1417.7L1377.22 1417.7L1380.17 1422.2L1383.11 1417.7L1386.06 1408.61L1389 1395.81L1391.95 1395.81L1394.89 1400.3L1397.84 1391.99L1400.78 1391.99L1403.73 1430.51L1406.67 1456.9L1409.62 1456.9L1412.56 1465.88L1415.51 1505.07L1418.45 1478.68L1421.4 1447.8L1424.34 1462.17L1427.29 1474.98L1430.23 1421.41L1433.18 1430.51L1436.12 1470.48L1439.07 1443.31L1442.01 1451.62L1444.96 1470.48L1447.9 1487.78L1450.85 1460.6L1453.79 1460.94" fill="none" stroke="#2C1818" stroke-width="4.2" stroke-linejoin="round"/>
<g fill="#2C1818"><circle cx="876.57" cy="1630.51" r="3.95"/><circle cx="879.52" cy="1626.36" r="3.95"/><circle cx="882.46" cy="1639.38" r="3.95"/><circle cx="885.41" cy="1612.66" r="3.95"/><circle cx="888.35" cy="1595.59" r="3.95"/><circle cx="891.3" cy="1581.89" r="3.95"/><circle cx="894.24" cy="1577.73" r="3.95"/><circle cx="897.19" cy="1530.45" r="3.95"/><circle cx="900.13" cy="1523.6" r="3.95"/><circle cx="903.08" cy="1520.12" r="3.95"/><circle cx="906.02" cy="1519.45" r="3.95"/><circle cx="908.97" cy="1516.75" r="3.95"/><circle cx="911.91" cy="1557.18" r="3.95"/><circle cx="914.86" cy="1553.7" r="3.95"/><circle cx="917.8" cy="1557.18" r="3.95"/><circle cx="920.75" cy="1543.48" r="3.95"/><circle cx="923.69" cy="1531.13" r="3.95"/><circle cx="926.64" cy="1512.6" r="3.95"/><circle cx="929.58" cy="1526.97" r="3.95"/><circle cx="932.53" cy="1517.43" r="3.95"/><circle cx="935.47" cy="1500.24" r="3.95"/><circle cx="938.42" cy="1492.05" r="3.95"/><circle cx="941.36" cy="1478.35" r="3.95"/><circle cx="944.31" cy="1460.49" r="3.95"/><circle cx="947.25" cy="1452.29" r="3.95"/><circle cx="950.2" cy="1461.95" r="3.95"/><circle cx="953.14" cy="1452.29" r="3.95"/><circle cx="956.09" cy="1439.27" r="3.95"/><circle cx="959.03" cy="1431.07" r="3.95"/><circle cx="961.98" cy="1416.69" r="3.95"/><circle cx="964.92" cy="1422.87" r="3.95"/><circle cx="967.87" cy="1452.97" r="3.95"/><circle cx="970.81" cy="1443.42" r="3.95"/><circle cx="973.76" cy="1451.62" r="3.95"/><circle cx="976.7" cy="1496.2" r="3.95"/><circle cx="979.65" cy="1501.03" r="3.95"/><circle cx="982.59" cy="1474.3" r="3.95"/><circle cx="985.54" cy="1474.3" r="3.95"/><circle cx="988.48" cy="1461.28" r="3.95"/><circle cx="991.43" cy="1417.37" r="3.95"/><circle cx="994.37" cy="1423.54" r="3.95"/><circle cx="997.32" cy="1429.72" r="3.95"/><circle cx="1000.26" cy="1435.9" r="3.95"/><circle cx="1003.21" cy="1442.07" r="3.95"/><circle cx="1006.15" cy="1448.92" r="3.95"/><circle cx="1009.1" cy="1412.54" r="3.95"/><circle cx="1012.04" cy="1405.01" r="3.95"/><circle cx="1014.99" cy="1411.86" r="3.95"/><circle cx="1017.93" cy="1417.37" r="3.95"/><circle cx="1020.88" cy="1439.27" r="3.95"/><circle cx="1023.82" cy="1457.12" r="3.95"/><circle cx="1026.77" cy="1483.17" r="3.95"/><circle cx="1029.71" cy="1474.3" r="3.95"/><circle cx="1032.66" cy="1492.05" r="3.95"/><circle cx="1035.6" cy="1470.15" r="3.95"/><circle cx="1038.55" cy="1461.28" r="3.95"/><circle cx="1041.49" cy="1439.27" r="3.95"/><circle cx="1044.44" cy="1426.91" r="3.95"/><circle cx="1047.38" cy="1391.99" r="3.95"/><circle cx="1050.33" cy="1426.91" r="3.95"/><circle cx="1053.27" cy="1433.76" r="3.95"/><circle cx="1056.22" cy="1439.27" r="3.95"/><circle cx="1059.16" cy="1457.79" r="3.95"/><circle cx="1062.11" cy="1474.3" r="3.95"/><circle cx="1065.05" cy="1465.32" r="3.95"/><circle cx="1068" cy="1479.02" r="3.95"/><circle cx="1070.94" cy="1469.47" r="3.95"/><circle cx="1073.89" cy="1474.3" r="3.95"/><circle cx="1076.83" cy="1478.35" r="3.95"/><circle cx="1079.78" cy="1447.58" r="3.95"/><circle cx="1082.72" cy="1446.79" r="3.95"/><circle cx="1085.67" cy="1456.45" r="3.95"/><circle cx="1088.61" cy="1426.24" r="3.95"/><circle cx="1091.56" cy="1435.22" r="3.95"/><circle cx="1094.5" cy="1473.52" r="3.95"/><circle cx="1097.45" cy="1465.32" r="3.95"/><circle cx="1100.39" cy="1460.49" r="3.95"/><circle cx="1103.34" cy="1496.2" r="3.95"/><circle cx="1106.28" cy="1478.35" r="3.95"/><circle cx="1109.23" cy="1434.55" r="3.95"/><circle cx="1112.17" cy="1439.27" r="3.95"/><circle cx="1115.12" cy="1452.29" r="3.95"/><circle cx="1118.06" cy="1447.58" r="3.95"/><circle cx="1121.01" cy="1447.58" r="3.95"/><circle cx="1123.95" cy="1460.49" r="3.95"/><circle cx="1126.9" cy="1465.32" r="3.95"/><circle cx="1129.84" cy="1478.35" r="3.95"/><circle cx="1132.79" cy="1478.35" r="3.95"/><circle cx="1135.73" cy="1496.2" r="3.95"/><circle cx="1138.68" cy="1531.13" r="3.95"/><circle cx="1141.62" cy="1526.97" r="3.95"/><circle cx="1144.57" cy="1495.53" r="3.95"/><circle cx="1147.51" cy="1504.4" r="3.95"/><circle cx="1150.46" cy="1504.4" r="3.95"/><circle cx="1153.4" cy="1461.28" r="3.95"/><circle cx="1156.35" cy="1447.58" r="3.95"/><circle cx="1159.29" cy="1452.29" r="3.95"/><circle cx="1162.24" cy="1447.58" r="3.95"/><circle cx="1165.18" cy="1447.58" r="3.95"/><circle cx="1168.13" cy="1478.35" r="3.95"/><circle cx="1171.07" cy="1483.17" r="3.95"/><circle cx="1174.02" cy="1478.35" r="3.95"/><circle cx="1176.96" cy="1469.47" r="3.95"/><circle cx="1179.91" cy="1478.35" r="3.95"/><circle cx="1182.85" cy="1434.55" r="3.95"/><circle cx="1185.8" cy="1460.49" r="3.95"/><circle cx="1188.74" cy="1460.49" r="3.95"/><circle cx="1191.69" cy="1460.49" r="3.95"/><circle cx="1194.63" cy="1443.42" r="3.95"/><circle cx="1197.58" cy="1474.3" r="3.95"/><circle cx="1200.52" cy="1455.77" r="3.95"/><circle cx="1203.47" cy="1465.32" r="3.95"/><circle cx="1206.41" cy="1460.49" r="3.95"/><circle cx="1209.36" cy="1487.33" r="3.95"/><circle cx="1212.3" cy="1486.32" r="3.95"/><circle cx="1215.25" cy="1482.5" r="3.95"/><circle cx="1218.19" cy="1439.27" r="3.95"/><circle cx="1221.14" cy="1460.49" r="3.95"/><circle cx="1224.08" cy="1448.25" r="3.95"/><circle cx="1227.03" cy="1469.47" r="3.95"/><circle cx="1229.97" cy="1491.37" r="3.95"/><circle cx="1232.92" cy="1474.3" r="3.95"/><circle cx="1235.86" cy="1464.65" r="3.95"/><circle cx="1238.81" cy="1482.5" r="3.95"/><circle cx="1241.75" cy="1456.45" r="3.95"/><circle cx="1244.7" cy="1448.14" r="3.95"/><circle cx="1247.64" cy="1457.12" r="3.95"/><circle cx="1250.59" cy="1470.48" r="3.95"/><circle cx="1253.53" cy="1453.08" r="3.95"/><circle cx="1256.48" cy="1430.51" r="3.95"/><circle cx="1259.42" cy="1444.09" r="3.95"/><circle cx="1262.37" cy="1462.17" r="3.95"/><circle cx="1265.31" cy="1448.59" r="3.95"/><circle cx="1268.26" cy="1438.03" r="3.95"/><circle cx="1271.2" cy="1425.9" r="3.95"/><circle cx="1274.15" cy="1433.54" r="3.95"/><circle cx="1277.09" cy="1433.54" r="3.95"/><circle cx="1280.04" cy="1430.51" r="3.95"/><circle cx="1282.98" cy="1430.51" r="3.95"/><circle cx="1285.93" cy="1470.48" r="3.95"/><circle cx="1288.87" cy="1456.11" r="3.95"/><circle cx="1291.82" cy="1468.13" r="3.95"/><circle cx="1294.76" cy="1492.27" r="3.95"/><circle cx="1297.71" cy="1487.78" r="3.95"/><circle cx="1300.65" cy="1451.62" r="3.95"/><circle cx="1303.6" cy="1474.98" r="3.95"/><circle cx="1306.54" cy="1421.41" r="3.95"/><circle cx="1309.49" cy="1421.41" r="3.95"/><circle cx="1312.43" cy="1433.54" r="3.95"/><circle cx="1315.38" cy="1443.31" r="3.95"/><circle cx="1318.32" cy="1438.82" r="3.95"/><circle cx="1321.27" cy="1457.57" r="3.95"/><circle cx="1324.21" cy="1443.31" r="3.95"/><circle cx="1327.16" cy="1457.57" r="3.95"/><circle cx="1330.1" cy="1448.59" r="3.95"/><circle cx="1333.05" cy="1421.41" r="3.95"/><circle cx="1335.99" cy="1428.93" r="3.95"/><circle cx="1338.94" cy="1435" r="3.95"/><circle cx="1341.88" cy="1456.9" r="3.95"/><circle cx="1344.83" cy="1462.17" r="3.95"/><circle cx="1347.77" cy="1466.67" r="3.95"/><circle cx="1350.72" cy="1460.6" r="3.95"/><circle cx="1353.66" cy="1465.88" r="3.95"/><circle cx="1356.61" cy="1439.49" r="3.95"/><circle cx="1359.55" cy="1448.59" r="3.95"/><circle cx="1362.5" cy="1448.59" r="3.95"/><circle cx="1365.44" cy="1444.09" r="3.95"/><circle cx="1368.39" cy="1430.51" r="3.95"/><circle cx="1371.33" cy="1425.23" r="3.95"/><circle cx="1374.28" cy="1417.7" r="3.95"/><circle cx="1377.22" cy="1417.7" r="3.95"/><circle cx="1380.17" cy="1422.2" r="3.95"/><circle cx="1383.11" cy="1417.7" r="3.95"/><circle cx="1386.06" cy="1408.61" r="3.95"/><circle cx="1389" cy="1395.81" r="3.95"/><circle cx="1391.95" cy="1395.81" r="3.95"/><circle cx="1394.89" cy="1400.3" r="3.95"/><circle cx="1397.84" cy="1391.99" r="3.95"/><circle cx="1400.78" cy="1391.99" r="3.95"/><circle cx="1403.73" cy="1430.51" r="3.95"/><circle cx="1406.67" cy="1456.9" r="3.95"/><circle cx="1409.62" cy="1456.9" r="3.95"/><circle cx="1412.56" cy="1465.88" r="3.95"/><circle cx="1415.51" cy="1505.07" r="3.95"/><circle cx="1418.45" cy="1478.68" r="3.95"/><circle cx="1421.4" cy="1447.8" r="3.95"/><circle cx="1424.34" cy="1462.17" r="3.95"/><circle cx="1427.29" cy="1474.98" r="3.95"/><circle cx="1430.23" cy="1421.41" r="3.95"/><circle cx="1433.18" cy="1430.51" r="3.95"/><circle cx="1436.12" cy="1470.48" r="3.95"/><circle cx="1439.07" cy="1443.31" r="3.95"/><circle cx="1442.01" cy="1451.62" r="3.95"/><circle cx="1444.96" cy="1470.48" r="3.95"/><circle cx="1447.9" cy="1487.78" r="3.95"/><circle cx="1450.85" cy="1460.6" r="3.95"/><circle cx="1453.79" cy="1460.94" r="3.95"/></g>
<path d="M876.57 1626.56A3.95 3.95 0 0 0 876.57 1634.46Z" fill="#000"/>
<path d="M1453.79 1456.99A3.95 3.95 0 0 1 1453.79 1464.89Z" fill="#000"/>
<path d="M866.5 1313V1763.7H1462.2" fill="none" stroke="#262626" stroke-width="3.0" stroke-linejoin="miter"/>
<path d="M875.1 1763.7v-7.2M1022.35 1763.7v-7.2M1169.6 1763.7v-7.2M1316.85 1763.7v-7.2M866.5 1763.7h7.2M866.5 1651.4h7.2M866.5 1539.1h7.2M866.5 1426.8h7.2M866.5 1314.5h7.2" fill="none" stroke="#262626" stroke-width="3.0"/>
<g font-size="43" fill="#262626"><text x="876.75" y="1814.5" text-anchor="middle">0</text><text x="1025.65" y="1814.5" text-anchor="middle">50</text><text x="1174.55" y="1814.5" text-anchor="middle">100</text><text x="1321.8" y="1814.5" text-anchor="middle">150</text><text x="854.7" y="1778.7" text-anchor="end">50</text><text x="854.7" y="1666.4" text-anchor="end">60</text><text x="854.7" y="1554.1" text-anchor="end">70</text><text x="854.7" y="1441.8" text-anchor="end">80</text><text x="854.7" y="1329.5" text-anchor="end">90</text></g>
<text x="1123.1" y="1299.9" font-size="44" font-weight="bold" fill="#000" letter-spacing="1.2">zy2</text>
<circle cx="175.43" cy="2165.5" r="3.95" fill="#000"/>
<circle cx="747.56" cy="2078.41" r="3.95" fill="#000"/>
<path d="M175.43 2095.85L178.37 2065.83L181.3 2058.05L184.24 2043.07L187.17 2031.44L190.1 2035.98L193.04 2043.07L195.97 2058.05L198.91 2058.05L201.84 2088L204.77 2088.64L207.71 2092.62L210.64 2095.85L213.58 2080.81L216.51 2047L219.44 2031.44L222.38 2035.98L225.31 1998.2L228.25 2027.65L231.18 2050.82L234.11 2058.69L237.05 2054.11L239.98 2050.82L242.92 2016.71L245.85 2005.81L248.78 2013.46L251.72 1983.65L254.65 1991.22L257.59 1991.22L260.52 1976.61L263.45 1987.38L266.39 1998.2L269.32 2020.6L272.26 2032.08L275.19 2028.28L278.12 2020.6L281.06 2012.83L283.99 2002.05L286.93 1998.2L289.86 2005.19L292.79 2023.75L295.73 2047L298.66 2054.75L301.6 2047L304.53 2031.44L307.46 2016.71L310.4 1994.34L313.33 1983.65L316.27 1987.38L319.2 2016.71L322.13 2016.71L325.07 2050.82L328 2050.82L330.94 2031.44L333.87 2050.82L336.8 2039.9L339.74 2016.71L342.67 2023.75L345.61 2062.52L348.54 2027.65L351.47 2035.46L354.41 2020.7L357.34 2005.92L360.28 1995.17L363.21 1988.21L366.14 1962.3L369.08 1987.48L372.01 1987.48L374.95 1991.33L377.88 2024.49L380.81 2051.67L383.75 2032.29L386.68 2013.04L389.62 2013.67L392.55 1998.3L395.48 2016.81L398.42 2032.29L401.35 2040L404.29 2047.74L407.22 2036.72L410.15 1980.54L413.09 1976.82L416.02 1984.37L418.96 1976.82L421.89 1958.61L424.82 1976.82L427.76 1965.49L430.69 1969.91L433.63 1951.76L436.56 1962.3L439.49 1977.44L442.43 1969.91L445.36 1973L448.3 1977.44L451.23 1980.54L454.16 1954.83L457.1 1954.83L460.03 1940.57L462.97 1925.71L465.9 1918.99L468.83 1918.99L471.77 1930.05L474.7 1944.23L477.64 1958.61L480.57 1962.3L483.5 1969.91L486.44 1969.91L489.37 1940.57L492.31 1936.82L495.24 1933.18L498.17 1922.7L501.11 1911.69L504.04 1933.18L506.98 1933.18L509.91 1936.82L512.84 1954.83L515.78 1951.05L518.71 1962.3L521.65 1980.54L524.58 1976.82L527.51 1958.61L530.45 1962.3L533.38 1954.62L536.32 1937.32L539.25 1964.87L542.18 1991.74L545.12 2014.09L548.05 1994.97L550.99 1994.97L553.92 2002.99L556.85 1951.56L559.79 1926.62L562.72 1934.49L565.66 1935.2L568.59 1933.68L571.52 1965.9L574.46 1983.34L577.39 1985.51L580.33 1988.42L583.26 1983.34L586.19 1998.61L589.13 1994.97L592.06 2002.99L595 1998.61L597.93 1994.97L600.86 1965.9L603.8 1958L606.73 1953.7L609.67 1950.13L612.6 1943.72L615.53 1958L618.47 1965.9L621.4 2002.26L624.34 2008.12L627.27 2020.7L630.2 2020.7L633.14 2017.02L636.07 1979.71L639.01 1965.9L641.94 1943.01L644.87 1915.38L647.81 1895.13L650.74 1895.13L653.68 1909.1L656.61 1923.1L659.54 1923.1L662.48 1947.99L665.41 1951.56L668.35 1941.58L671.28 1939.45L674.21 1951.56L677.15 1930.15L680.08 1937.32L683.02 1965.9L685.95 2002.26L688.88 2006.65L691.82 2017.02L694.75 2010.31L697.69 1986.97L700.62 1962.3L703.55 1976.82L706.49 1977.54L709.42 1962.3L712.36 1991.33L715.29 1991.33L718.22 1986.97L721.16 1998.61L724.09 2013.35L727.03 1976.1L729.96 1972.49L732.89 1994.97L735.83 1995.7L738.76 1983.34L741.7 1998.61L744.63 2005.92L747.56 2013.35L747.56 2143.46L744.63 2134.96L741.7 2126.55L738.76 2108.83L735.83 2123.18L732.89 2122.34L729.96 2096.11L727.03 2100.35L724.09 2143.46L721.16 2126.55L718.22 2113.06L715.29 2118.12L712.36 2118.12L709.42 2084.07L706.49 2102.05L703.55 2101.2L700.62 2084.07L697.69 2113.06L694.75 2139.99L691.82 2147.65L688.88 2135.8L685.95 2130.76L683.02 2088.33L680.08 2054.05L677.15 2045.29L674.21 2071.24L671.28 2056.64L668.35 2059.22L665.41 2071.24L662.48 2066.95L659.54 2036.62L656.61 2036.62L653.68 2019.2L650.74 2001.51L647.81 2001.51L644.87 2027.06L641.94 2060.94L639.01 2088.33L636.07 2104.59L633.14 2147.65L630.2 2151.83L627.27 2151.83L624.34 2137.47L621.4 2130.76L618.47 2088.33L615.53 2078.94L612.6 2061.8L609.67 2069.53L606.73 2073.81L603.8 2078.94L600.86 2088.33L597.93 2122.34L595 2126.55L592.06 2131.6L589.13 2122.34L586.19 2126.55L583.26 2108.83L580.33 2114.75L577.39 2111.36L574.46 2108.83L571.52 2088.33L568.59 2049.61L565.66 2051.46L562.72 2050.6L559.79 2040.96L556.85 2071.24L553.92 2131.6L550.99 2122.34L548.05 2122.34L545.12 2144.3L542.18 2118.6L539.25 2087.11L536.32 2054.05L533.38 2074.91L530.45 2084.07L527.51 2079.68L524.58 2101.2L521.65 2105.56L518.71 2084.07L515.78 2070.63L512.84 2075.16L509.91 2053.44L506.98 2049L504.04 2049L501.11 2022.44L498.17 2036.13L495.24 2049L492.31 2053.44L489.37 2057.99L486.44 2093.07L483.5 2093.07L480.57 2084.07L477.64 2079.68L474.7 2062.41L471.77 2045.17L468.83 2031.53L465.9 2031.53L462.97 2039.85L460.03 2057.99L457.1 2075.16L454.16 2075.16L451.23 2105.56L448.3 2101.93L445.36 2096.71L442.43 2093.07L439.49 2101.93L436.56 2084.07L433.63 2071.49L430.69 2093.07L427.76 2087.84L424.82 2101.2L421.89 2079.68L418.96 2101.2L416.02 2110.04L413.09 2101.2L410.15 2105.56L407.22 2169.92L404.29 2182.25L401.35 2173.6L398.42 2164.93L395.48 2147.41L392.55 2126.19L389.62 2143.82L386.68 2143.1L383.75 2164.93L380.81 2186.63L377.88 2156.12L374.95 2118.12L372.01 2113.66L369.08 2113.66L366.14 2084.07L363.21 2114.5L360.28 2122.58L357.34 2134.96L354.41 2151.83L351.47 2168.5L348.54 2159.69L345.61 2198.67L342.67 2155.29L339.74 2147.29L336.8 2173.48L333.87 2185.68L330.94 2163.98L328 2185.68L325.07 2185.68L322.13 2147.29L319.2 2147.29L316.27 2113.54L313.33 2109.19L310.4 2121.62L307.46 2147.29L304.53 2163.98L301.6 2181.42L298.66 2190.06L295.73 2181.42L292.79 2155.29L289.86 2134.12L286.93 2126.07L283.99 2130.52L281.06 2142.86L278.12 2151.71L275.19 2160.41L272.26 2164.69L269.32 2151.71L266.39 2126.07L263.45 2113.54L260.52 2100.96L257.59 2118L254.65 2118L251.72 2109.19L248.78 2143.58L245.85 2134.84L242.92 2147.29L239.98 2185.68L237.05 2189.35L234.11 2194.43L231.18 2185.68L228.25 2159.69L225.31 2126.07L222.38 2169.09L219.44 2163.98L216.51 2181.42L213.58 2218.77L210.64 2235.16L207.71 2231.65L204.77 2227.32L201.84 2226.62L198.91 2193.72L195.97 2193.72L193.04 2177.04L190.1 2169.09L187.17 2163.98L184.24 2177.04L181.3 2193.72L178.37 2202.32L175.43 2235.16Z" fill="#FDE5E4" stroke="#FDE5E4" stroke-width="1" stroke-linejoin="miter" stroke-miterlimit="6"/>
<path d="M175.43 2095.85L178.37 2065.83L181.3 2058.05L184.24 2043.07L187.17 2031.44L190.1 2035.98L193.04 2043.07L195.97 2058.05L198.91 2058.05L201.84 2088L204.77 2088.64L207.71 2092.62L210.64 2095.85L213.58 2080.81L216.51 2047L219.44 2031.44L222.38 2035.98L225.31 1998.2L228.25 2027.65L231.18 2050.82L234.11 2058.69L237.05 2054.11L239.98 2050.82L242.92 2016.71L245.85 2005.81L248.78 2013.46L251.72 1983.65L254.65 1991.22L257.59 1991.22L260.52 1976.61L263.45 1987.38L266.39 1998.2L269.32 2020.6L272.26 2032.08L275.19 2028.28L278.12 2020.6L281.06 2012.83L283.99 2002.05L286.93 1998.2L289.86 2005.19L292.79 2023.75L295.73 2047L298.66 2054.75L301.6 2047L304.53 2031.44L307.46 2016.71L310.4 1994.34L313.33 1983.65L316.27 1987.38L319.2 2016.71L322.13 2016.71L325.07 2050.82L328 2050.82L330.94 2031.44L333.87 2050.82L336.8 2039.9L339.74 2016.71L342.67 2023.75L345.61 2062.52L348.54 2027.65L351.47 2035.46L354.41 2020.7L357.34 2005.92L360.28 1995.17L363.21 1988.21L366.14 1962.3L369.08 1987.48L372.01 1987.48L374.95 1991.33L377.88 2024.49L380.81 2051.67L383.75 2032.29L386.68 2013.04L389.62 2013.67L392.55 1998.3L395.48 2016.81L398.42 2032.29L401.35 2040L404.29 2047.74L407.22 2036.72L410.15 1980.54L413.09 1976.82L416.02 1984.37L418.96 1976.82L421.89 1958.61L424.82 1976.82L427.76 1965.49L430.69 1969.91L433.63 1951.76L436.56 1962.3L439.49 1977.44L442.43 1969.91L445.36 1973L448.3 1977.44L451.23 1980.54L454.16 1954.83L457.1 1954.83L460.03 1940.57L462.97 1925.71L465.9 1918.99L468.83 1918.99L471.77 1930.05L474.7 1944.23L477.64 1958.61L480.57 1962.3L483.5 1969.91L486.44 1969.91L489.37 1940.57L492.31 1936.82L495.24 1933.18L498.17 1922.7L501.11 1911.69L504.04 1933.18L506.98 1933.18L509.91 1936.82L512.84 1954.83L515.78 1951.05L518.71 1962.3L521.65 1980.54L524.58 1976.82L527.51 1958.61L530.45 1962.3L533.38 1954.62L536.32 1937.32L539.25 1964.87L542.18 1991.74L545.12 2014.09L548.05 1994.97L550.99 1994.97L553.92 2002.99L556.85 1951.56L559.79 1926.62L562.72 1934.49L565.66 1935.2L568.59 1933.68L571.52 1965.9L574.46 1983.34L577.39 1985.51L580.33 1988.42L583.26 1983.34L586.19 1998.61L589.13 1994.97L592.06 2002.99L595 1998.61L597.93 1994.97L600.86 1965.9L603.8 1958L606.73 1953.7L609.67 1950.13L612.6 1943.72L615.53 1958L618.47 1965.9L621.4 2002.26L624.34 2008.12L627.27 2020.7L630.2 2020.7L633.14 2017.02L636.07 1979.71L639.01 1965.9L641.94 1943.01L644.87 1915.38L647.81 1895.13L650.74 1895.13L653.68 1909.1L656.61 1923.1L659.54 1923.1L662.48 1947.99L665.41 1951.56L668.35 1941.58L671.28 1939.45L674.21 1951.56L677.15 1930.15L680.08 1937.32L683.02 1965.9L685.95 2002.26L688.88 2006.65L691.82 2017.02L694.75 2010.31L697.69 1986.97L700.62 1962.3L703.55 1976.82L706.49 1977.54L709.42 1962.3L712.36 1991.33L715.29 1991.33L718.22 1986.97L721.16 1998.61L724.09 2013.35L727.03 1976.1L729.96 1972.49L732.89 1994.97L735.83 1995.7L738.76 1983.34L741.7 1998.61L744.63 2005.92L747.56 2013.35" fill="none" stroke="#EDA033" stroke-width="2.9" stroke-linejoin="round"/>
<path d="M175.43 2235.16L178.37 2202.32L181.3 2193.72L184.24 2177.04L187.17 2163.98L190.1 2169.09L193.04 2177.04L195.97 2193.72L198.91 2193.72L201.84 2226.62L204.77 2227.32L207.71 2231.65L210.64 2235.16L213.58 2218.77L216.51 2181.42L219.44 2163.98L222.38 2169.09L225.31 2126.07L228.25 2159.69L231.18 2185.68L234.11 2194.43L237.05 2189.35L239.98 2185.68L242.92 2147.29L245.85 2134.84L248.78 2143.58L251.72 2109.19L254.65 2118L257.59 2118L260.52 2100.96L263.45 2113.54L266.39 2126.07L269.32 2151.71L272.26 2164.69L275.19 2160.41L278.12 2151.71L281.06 2142.86L283.99 2130.52L286.93 2126.07L289.86 2134.12L292.79 2155.29L295.73 2181.42L298.66 2190.06L301.6 2181.42L304.53 2163.98L307.46 2147.29L310.4 2121.62L313.33 2109.19L316.27 2113.54L319.2 2147.29L322.13 2147.29L325.07 2185.68L328 2185.68L330.94 2163.98L333.87 2185.68L336.8 2173.48L339.74 2147.29L342.67 2155.29L345.61 2198.67L348.54 2159.69L351.47 2168.5L354.41 2151.83L357.34 2134.96L360.28 2122.58L363.21 2114.5L366.14 2084.07L369.08 2113.66L372.01 2113.66L374.95 2118.12L377.88 2156.12L380.81 2186.63L383.75 2164.93L386.68 2143.1L389.62 2143.82L392.55 2126.19L395.48 2147.41L398.42 2164.93L401.35 2173.6L404.29 2182.25L407.22 2169.92L410.15 2105.56L413.09 2101.2L416.02 2110.04L418.96 2101.2L421.89 2079.68L424.82 2101.2L427.76 2087.84L430.69 2093.07L433.63 2071.49L436.56 2084.07L439.49 2101.93L442.43 2093.07L445.36 2096.71L448.3 2101.93L451.23 2105.56L454.16 2075.16L457.1 2075.16L460.03 2057.99L462.97 2039.85L465.9 2031.53L468.83 2031.53L471.77 2045.17L474.7 2062.41L477.64 2079.68L480.57 2084.07L483.5 2093.07L486.44 2093.07L489.37 2057.99L492.31 2053.44L495.24 2049L498.17 2036.13L501.11 2022.44L504.04 2049L506.98 2049L509.91 2053.44L512.84 2075.16L515.78 2070.63L518.71 2084.07L521.65 2105.56L524.58 2101.2L527.51 2079.68L530.45 2084.07L533.38 2074.91L536.32 2054.05L539.25 2087.11L542.18 2118.6L545.12 2144.3L548.05 2122.34L550.99 2122.34L553.92 2131.6L556.85 2071.24L559.79 2040.96L562.72 2050.6L565.66 2051.46L568.59 2049.61L571.52 2088.33L574.46 2108.83L577.39 2111.36L580.33 2114.75L583.26 2108.83L586.19 2126.55L589.13 2122.34L592.06 2131.6L595 2126.55L597.93 2122.34L600.86 2088.33L603.8 2078.94L606.73 2073.81L609.67 2069.53L612.6 2061.8L615.53 2078.94L618.47 2088.33L621.4 2130.76L624.34 2137.47L627.27 2151.83L630.2 2151.83L633.14 2147.65L636.07 2104.59L639.01 2088.33L641.94 2060.94L644.87 2027.06L647.81 2001.51L650.74 2001.51L653.68 2019.2L656.61 2036.62L659.54 2036.62L662.48 2066.95L665.41 2071.24L668.35 2059.22L671.28 2056.64L674.21 2071.24L677.15 2045.29L680.08 2054.05L683.02 2088.33L685.95 2130.76L688.88 2135.8L691.82 2147.65L694.75 2139.99L697.69 2113.06L700.62 2084.07L703.55 2101.2L706.49 2102.05L709.42 2084.07L712.36 2118.12L715.29 2118.12L718.22 2113.06L721.16 2126.55L724.09 2143.46L727.03 2100.35L729.96 2096.11L732.89 2122.34L735.83 2123.18L738.76 2108.83L741.7 2126.55L744.63 2134.96L747.56 2143.46" fill="none" stroke="#E2602F" stroke-width="2.9" stroke-linejoin="round"/>
<path d="M175.43 2165.5L178.37 2134.08L181.3 2125.88L184.24 2110.06L187.17 2097.71L190.1 2102.54L193.04 2110.06L195.97 2125.88L198.91 2125.88L201.84 2157.31L204.77 2157.98L207.71 2162.14L210.64 2165.5L213.58 2149.79L216.51 2114.21L219.44 2097.71L222.38 2102.54L225.31 2062.13L228.25 2093.67L231.18 2118.25L234.11 2126.56L237.05 2121.73L239.98 2118.25L242.92 2082L245.85 2070.33L248.78 2078.52L251.72 2046.42L254.65 2054.61L257.59 2054.61L260.52 2038.79L263.45 2050.46L266.39 2062.13L269.32 2086.15L272.26 2098.38L275.19 2094.34L278.12 2086.15L281.06 2077.85L283.99 2066.28L286.93 2062.13L289.86 2069.65L292.79 2089.52L295.73 2114.21L298.66 2122.4L301.6 2114.21L304.53 2097.71L307.46 2082L310.4 2057.98L313.33 2046.42L316.27 2050.46L319.2 2082L322.13 2082L325.07 2118.25L328 2118.25L330.94 2097.71L333.87 2118.25L336.8 2106.69L339.74 2082L342.67 2089.52L345.61 2130.6L348.54 2093.67L351.47 2101.98L354.41 2086.26L357.34 2070.44L360.28 2058.88L363.21 2051.36L366.14 2023.19L369.08 2050.57L372.01 2050.57L374.95 2054.72L377.88 2090.3L380.81 2119.15L383.75 2098.61L386.68 2078.07L389.62 2078.74L392.55 2062.24L395.48 2082.11L398.42 2098.61L401.35 2106.8L404.29 2115L407.22 2103.32L410.15 2043.05L413.09 2039.01L416.02 2047.2L418.96 2039.01L421.89 2019.15L424.82 2039.01L427.76 2026.67L430.69 2031.49L433.63 2011.63L436.56 2023.19L439.49 2039.68L442.43 2031.49L445.36 2034.86L448.3 2039.68L451.23 2043.05L454.16 2014.99L457.1 2014.99L460.03 1999.28L462.97 1982.78L465.9 1975.26L468.83 1975.26L471.77 1987.61L474.7 2003.32L477.64 2019.15L480.57 2023.19L483.5 2031.49L486.44 2031.49L489.37 1999.28L492.31 1995.13L495.24 1991.09L498.17 1979.41L501.11 1967.07L504.04 1991.09L506.98 1991.09L509.91 1995.13L512.84 2014.99L515.78 2010.84L518.71 2023.19L521.65 2043.05L524.58 2039.01L527.51 2019.15L530.45 2023.19L533.38 2014.77L536.32 1995.69L539.25 2025.99L542.18 2055.17L545.12 2079.19L548.05 2058.65L550.99 2058.65L553.92 2067.3L556.85 2011.4L559.79 1983.79L562.72 1992.54L565.66 1993.33L568.59 1991.65L571.52 2027.11L574.46 2046.08L577.39 2048.44L580.33 2051.58L583.26 2046.08L586.19 2062.58L589.13 2058.65L592.06 2067.3L595 2062.58L597.93 2058.65L600.86 2027.11L603.8 2018.47L606.73 2013.76L609.67 2009.83L612.6 2002.76L615.53 2018.47L618.47 2027.11L621.4 2066.51L624.34 2072.79L627.27 2086.26L630.2 2086.26L633.14 2082.33L636.07 2042.15L639.01 2027.11L641.94 2001.97L644.87 1971.22L647.81 1948.32L650.74 1948.32L653.68 1964.15L656.61 1979.86L659.54 1979.86L662.48 2007.47L665.41 2011.4L668.35 2000.4L671.28 1998.04L674.21 2011.4L677.15 1987.72L680.08 1995.69L683.02 2027.11L685.95 2066.51L688.88 2071.22L691.82 2082.33L694.75 2075.15L697.69 2050.01L700.62 2023.19L703.55 2039.01L706.49 2039.8L709.42 2023.19L712.36 2054.72L715.29 2054.72L718.22 2050.01L721.16 2062.58L724.09 2078.41L727.03 2038.23L729.96 2034.3L732.89 2058.65L735.83 2059.44L738.76 2046.08L741.7 2062.58L744.63 2070.44L747.56 2078.41" fill="none" stroke="#2C1818" stroke-width="4.2" stroke-linejoin="round"/>
<g fill="#2C1818"><circle cx="175.43" cy="2165.5" r="3.95"/><circle cx="178.37" cy="2134.08" r="3.95"/><circle cx="181.3" cy="2125.88" r="3.95"/><circle cx="184.24" cy="2110.06" r="3.95"/><circle cx="187.17" cy="2097.71" r="3.95"/><circle cx="190.1" cy="2102.54" r="3.95"/><circle cx="193.04" cy="2110.06" r="3.95"/><circle cx="195.97" cy="2125.88" r="3.95"/><circle cx="198.91" cy="2125.88" r="3.95"/><circle cx="201.84" cy="2157.31" r="3.95"/><circle cx="204.77" cy="2157.98" r="3.95"/><circle cx="207.71" cy="2162.14" r="3.95"/><circle cx="210.64" cy="2165.5" r="3.95"/><circle cx="213.58" cy="2149.79" r="3.95"/><circle cx="216.51" cy="2114.21" r="3.95"/><circle cx="219.44" cy="2097.71" r="3.95"/><circle cx="222.38" cy="2102.54" r="3.95"/><circle cx="225.31" cy="2062.13" r="3.95"/><circle cx="228.25" cy="2093.67" r="3.95"/><circle cx="231.18" cy="2118.25" r="3.95"/><circle cx="234.11" cy="2126.56" r="3.95"/><circle cx="237.05" cy="2121.73" r="3.95"/><circle cx="239.98" cy="2118.25" r="3.95"/><circle cx="242.92" cy="2082" r="3.95"/><circle cx="245.85" cy="2070.33" r="3.95"/><circle cx="248.78" cy="2078.52" r="3.95"/><circle cx="251.72" cy="2046.42" r="3.95"/><circle cx="254.65" cy="2054.61" r="3.95"/><circle cx="257.59" cy="2054.61" r="3.95"/><circle cx="260.52" cy="2038.79" r="3.95"/><circle cx="263.45" cy="2050.46" r="3.95"/><circle cx="266.39" cy="2062.13" r="3.95"/><circle cx="269.32" cy="2086.15" r="3.95"/><circle cx="272.26" cy="2098.38" r="3.95"/><circle cx="275.19" cy="2094.34" r="3.95"/><circle cx="278.12" cy="2086.15" r="3.95"/><circle cx="281.06" cy="2077.85" r="3.95"/><circle cx="283.99" cy="2066.28" r="3.95"/><circle cx="286.93" cy="2062.13" r="3.95"/><circle cx="289.86" cy="2069.65" r="3.95"/><circle cx="292.79" cy="2089.52" r="3.95"/><circle cx="295.73" cy="2114.21" r="3.95"/><circle cx="298.66" cy="2122.4" r="3.95"/><circle cx="301.6" cy="2114.21" r="3.95"/><circle cx="304.53" cy="2097.71" r="3.95"/><circle cx="307.46" cy="2082" r="3.95"/><circle cx="310.4" cy="2057.98" r="3.95"/><circle cx="313.33" cy="2046.42" r="3.95"/><circle cx="316.27" cy="2050.46" r="3.95"/><circle cx="319.2" cy="2082" r="3.95"/><circle cx="322.13" cy="2082" r="3.95"/><circle cx="325.07" cy="2118.25" r="3.95"/><circle cx="328" cy="2118.25" r="3.95"/><circle cx="330.94" cy="2097.71" r="3.95"/><circle cx="333.87" cy="2118.25" r="3.95"/><circle cx="336.8" cy="2106.69" r="3.95"/><circle cx="339.74" cy="2082" r="3.95"/><circle cx="342.67" cy="2089.52" r="3.95"/><circle cx="345.61" cy="2130.6" r="3.95"/><circle cx="348.54" cy="2093.67" r="3.95"/><circle cx="351.47" cy="2101.98" r="3.95"/><circle cx="354.41" cy="2086.26" r="3.95"/><circle cx="357.34" cy="2070.44" r="3.95"/><circle cx="360.28" cy="2058.88" r="3.95"/><circle cx="363.21" cy="2051.36" r="3.95"/><circle cx="366.14" cy="2023.19" r="3.95"/><circle cx="369.08" cy="2050.57" r="3.95"/><circle cx="372.01" cy="2050.57" r="3.95"/><circle cx="374.95" cy="2054.72" r="3.95"/><circle cx="377.88" cy="2090.3" r="3.95"/><circle cx="380.81" cy="2119.15" r="3.95"/><circle cx="383.75" cy="2098.61" r="3.95"/><circle cx="386.68" cy="2078.07" r="3.95"/><circle cx="389.62" cy="2078.74" r="3.95"/><circle cx="392.55" cy="2062.24" r="3.95"/><circle cx="395.48" cy="2082.11" r="3.95"/><circle cx="398.42" cy="2098.61" r="3.95"/><circle cx="401.35" cy="2106.8" r="3.95"/><circle cx="404.29" cy="2115" r="3.95"/><circle cx="407.22" cy="2103.32" r="3.95"/><circle cx="410.15" cy="2043.05" r="3.95"/><circle cx="413.09" cy="2039.01" r="3.95"/><circle cx="416.02" cy="2047.2" r="3.95"/><circle cx="418.96" cy="2039.01" r="3.95"/><circle cx="421.89" cy="2019.15" r="3.95"/><circle cx="424.82" cy="2039.01" r="3.95"/><circle cx="427.76" cy="2026.67" r="3.95"/><circle cx="430.69" cy="2031.49" r="3.95"/><circle cx="433.63" cy="2011.63" r="3.95"/><circle cx="436.56" cy="2023.19" r="3.95"/><circle cx="439.49" cy="2039.68" r="3.95"/><circle cx="442.43" cy="2031.49" r="3.95"/><circle cx="445.36" cy="2034.86" r="3.95"/><circle cx="448.3" cy="2039.68" r="3.95"/><circle cx="451.23" cy="2043.05" r="3.95"/><circle cx="454.16" cy="2014.99" r="3.95"/><circle cx="457.1" cy="2014.99" r="3.95"/><circle cx="460.03" cy="1999.28" r="3.95"/><circle cx="462.97" cy="1982.78" r="3.95"/><circle cx="465.9" cy="1975.26" r="3.95"/><circle cx="468.83" cy="1975.26" r="3.95"/><circle cx="471.77" cy="1987.61" r="3.95"/><circle cx="474.7" cy="2003.32" r="3.95"/><circle cx="477.64" cy="2019.15" r="3.95"/><circle cx="480.57" cy="2023.19" r="3.95"/><circle cx="483.5" cy="2031.49" r="3.95"/><circle cx="486.44" cy="2031.49" r="3.95"/><circle cx="489.37" cy="1999.28" r="3.95"/><circle cx="492.31" cy="1995.13" r="3.95"/><circle cx="495.24" cy="1991.09" r="3.95"/><circle cx="498.17" cy="1979.41" r="3.95"/><circle cx="501.11" cy="1967.07" r="3.95"/><circle cx="504.04" cy="1991.09" r="3.95"/><circle cx="506.98" cy="1991.09" r="3.95"/><circle cx="509.91" cy="1995.13" r="3.95"/><circle cx="512.84" cy="2014.99" r="3.95"/><circle cx="515.78" cy="2010.84" r="3.95"/><circle cx="518.71" cy="2023.19" r="3.95"/><circle cx="521.65" cy="2043.05" r="3.95"/><circle cx="524.58" cy="2039.01" r="3.95"/><circle cx="527.51" cy="2019.15" r="3.95"/><circle cx="530.45" cy="2023.19" r="3.95"/><circle cx="533.38" cy="2014.77" r="3.95"/><circle cx="536.32" cy="1995.69" r="3.95"/><circle cx="539.25" cy="2025.99" r="3.95"/><circle cx="542.18" cy="2055.17" r="3.95"/><circle cx="545.12" cy="2079.19" r="3.95"/><circle cx="548.05" cy="2058.65" r="3.95"/><circle cx="550.99" cy="2058.65" r="3.95"/><circle cx="553.92" cy="2067.3" r="3.95"/><circle cx="556.85" cy="2011.4" r="3.95"/><circle cx="559.79" cy="1983.79" r="3.95"/><circle cx="562.72" cy="1992.54" r="3.95"/><circle cx="565.66" cy="1993.33" r="3.95"/><circle cx="568.59" cy="1991.65" r="3.95"/><circle cx="571.52" cy="2027.11" r="3.95"/><circle cx="574.46" cy="2046.08" r="3.95"/><circle cx="577.39" cy="2048.44" r="3.95"/><circle cx="580.33" cy="2051.58" r="3.95"/><circle cx="583.26" cy="2046.08" r="3.95"/><circle cx="586.19" cy="2062.58" r="3.95"/><circle cx="589.13" cy="2058.65" r="3.95"/><circle cx="592.06" cy="2067.3" r="3.95"/><circle cx="595" cy="2062.58" r="3.95"/><circle cx="597.93" cy="2058.65" r="3.95"/><circle cx="600.86" cy="2027.11" r="3.95"/><circle cx="603.8" cy="2018.47" r="3.95"/><circle cx="606.73" cy="2013.76" r="3.95"/><circle cx="609.67" cy="2009.83" r="3.95"/><circle cx="612.6" cy="2002.76" r="3.95"/><circle cx="615.53" cy="2018.47" r="3.95"/><circle cx="618.47" cy="2027.11" r="3.95"/><circle cx="621.4" cy="2066.51" r="3.95"/><circle cx="624.34" cy="2072.79" r="3.95"/><circle cx="627.27" cy="2086.26" r="3.95"/><circle cx="630.2" cy="2086.26" r="3.95"/><circle cx="633.14" cy="2082.33" r="3.95"/><circle cx="636.07" cy="2042.15" r="3.95"/><circle cx="639.01" cy="2027.11" r="3.95"/><circle cx="641.94" cy="2001.97" r="3.95"/><circle cx="644.87" cy="1971.22" r="3.95"/><circle cx="647.81" cy="1948.32" r="3.95"/><circle cx="650.74" cy="1948.32" r="3.95"/><circle cx="653.68" cy="1964.15" r="3.95"/><circle cx="656.61" cy="1979.86" r="3.95"/><circle cx="659.54" cy="1979.86" r="3.95"/><circle cx="662.48" cy="2007.47" r="3.95"/><circle cx="665.41" cy="2011.4" r="3.95"/><circle cx="668.35" cy="2000.4" r="3.95"/><circle cx="671.28" cy="1998.04" r="3.95"/><circle cx="674.21" cy="2011.4" r="3.95"/><circle cx="677.15" cy="1987.72" r="3.95"/><circle cx="680.08" cy="1995.69" r="3.95"/><circle cx="683.02" cy="2027.11" r="3.95"/><circle cx="685.95" cy="2066.51" r="3.95"/><circle cx="688.88" cy="2071.22" r="3.95"/><circle cx="691.82" cy="2082.33" r="3.95"/><circle cx="694.75" cy="2075.15" r="3.95"/><circle cx="697.69" cy="2050.01" r="3.95"/><circle cx="700.62" cy="2023.19" r="3.95"/><circle cx="703.55" cy="2039.01" r="3.95"/><circle cx="706.49" cy="2039.8" r="3.95"/><circle cx="709.42" cy="2023.19" r="3.95"/><circle cx="712.36" cy="2054.72" r="3.95"/><circle cx="715.29" cy="2054.72" r="3.95"/><circle cx="718.22" cy="2050.01" r="3.95"/><circle cx="721.16" cy="2062.58" r="3.95"/><circle cx="724.09" cy="2078.41" r="3.95"/><circle cx="727.03" cy="2038.23" r="3.95"/><circle cx="729.96" cy="2034.3" r="3.95"/><circle cx="732.89" cy="2058.65" r="3.95"/><circle cx="735.83" cy="2059.44" r="3.95"/><circle cx="738.76" cy="2046.08" r="3.95"/><circle cx="741.7" cy="2062.58" r="3.95"/><circle cx="744.63" cy="2070.44" r="3.95"/><circle cx="747.56" cy="2078.41" r="3.95"/></g>
<path d="M175.43 2161.55A3.95 3.95 0 0 0 175.43 2169.45Z" fill="#000"/>
<path d="M747.56 2074.46A3.95 3.95 0 0 1 747.56 2082.36Z" fill="#000"/>
<path d="M163.75 1881.95V2332.4H757.7" fill="none" stroke="#262626" stroke-width="3.0" stroke-linejoin="miter"/>
<path d="M172.5 2332.4v-7.2M319.2 2332.4v-7.2M465.9 2332.4v-7.2M612.6 2332.4v-7.2M163.75 2332.4h7.2M163.75 2220.16h7.2M163.75 2107.93h7.2M163.75 1995.69h7.2M163.75 1883.45h7.2" fill="none" stroke="#262626" stroke-width="3.0"/>
<g font-size="43" fill="#262626"><text x="174.15" y="2383.2" text-anchor="middle">0</text><text x="322.5" y="2383.2" text-anchor="middle">50</text><text x="470.85" y="2383.2" text-anchor="middle">100</text><text x="617.55" y="2383.2" text-anchor="middle">150</text><text x="147.65" y="2347.4" text-anchor="end">50</text><text x="147.65" y="2235.16" text-anchor="end">60</text><text x="147.65" y="2122.93" text-anchor="end">70</text><text x="147.65" y="2010.69" text-anchor="end">80</text><text x="147.65" y="1898.45" text-anchor="end">90</text></g>
<text x="418.6" y="1868.8" font-size="44" font-weight="bold" fill="#000" letter-spacing="1.2">zy3</text>
<circle cx="876.57" cy="2189.63" r="3.95" fill="#000"/>
<circle cx="1453.79" cy="2033.85" r="3.95" fill="#000"/>
<path d="M876.57 2123.42L879.52 2072.71L882.46 2040.19L885.41 2003.49L888.35 2013.15L891.3 2010.63L894.24 2032.45L897.19 2044.11L900.13 2044.75L903.08 2028.54L906.02 2014.41L908.97 2018.3L911.91 1989.49L914.86 1982.52L917.8 1964.81L920.75 1976.19L923.69 1940.41L926.64 1961.1L929.58 1968.63L932.53 1983.77L935.47 1961.1L938.42 1967.39L941.36 1947.25L944.31 1961.1L947.25 1954.11L950.2 1967.39L953.14 1978.68L956.09 1986.99L959.03 1968.01L961.98 1980.02L964.92 1982.52L967.87 1978.68L970.81 1983.14L973.76 1978.68L976.7 1964.81L979.65 1964.19L982.59 1957.91L985.54 1963.58L988.48 1968.63L991.43 1950.42L994.37 1961.1L997.32 1972.98L1000.26 1973.7L1003.21 1961.1L1006.15 1990.12L1009.1 1976.19L1012.04 1974.32L1014.99 1971.11L1017.93 1967.39L1020.88 1961.1L1023.82 1979.4L1026.77 1943.57L1029.71 1954.73L1032.66 1975.57L1035.6 1981.27L1038.55 1982.52L1041.49 2004.12L1044.44 1993.97L1047.38 1990.12L1050.33 1971.11L1053.27 1985.22L1056.22 1987.82L1059.16 1971.94L1062.11 1980.86L1065.05 1979.61L1068 1968.84L1070.94 1940L1073.89 1948.07L1076.83 1951.24L1079.78 1930.04L1082.72 1923.26L1085.67 1902.49L1088.61 1889.19L1091.56 1889.19L1094.5 1909.18L1097.45 1936.94L1100.39 1961.31L1103.34 1972.56L1106.28 1983.35L1109.23 1968.22L1112.17 1978.88L1115.12 1993.56L1118.06 1985.95L1121.01 1990.95L1123.95 1993.56L1126.9 1975.77L1129.84 1947.45L1132.79 1982.1L1135.73 2001.19L1138.68 1985.95L1141.62 1993.56L1144.57 1989.7L1147.51 1961.31L1150.46 1940.61L1153.4 1940.61L1156.35 1923.26L1159.29 1944.39L1162.24 1951.24L1165.18 1958.12L1168.13 1978.88L1171.07 2005.06L1174.02 2001.19L1176.96 1997.32L1179.91 1971.94L1182.85 1975.77L1185.8 1968.84L1188.74 1950.63L1191.69 1940.61L1194.63 1947.45L1197.58 1933.18L1200.52 1916.5L1203.47 1944.39L1206.41 1933.79L1209.36 1936.94L1212.3 1930.04L1215.25 1923.26L1218.19 1895.82L1221.14 1895.82L1224.08 1889.19L1227.03 1912.89L1229.97 1933.18L1232.92 1940L1235.86 1951.24L1238.81 1965.02L1241.75 1940.61L1244.7 1946.02L1247.64 1961.93L1250.59 1942.96L1253.53 1935.21L1256.48 1932.47L1259.42 1933.08L1262.37 1943.36L1265.31 1944.79L1268.26 1948.17L1271.2 1944.08L1274.15 1933.79L1277.09 1920.23L1280.04 1932.47L1282.98 1933.08L1285.93 1937.86L1288.87 1941.32L1291.82 1936.54L1294.76 1940L1297.71 1944.79L1300.65 1968.22L1303.6 1951.65L1306.54 1950.93L1309.49 1950.93L1312.43 1958.53L1315.38 1954.42L1318.32 1968.22L1321.27 1975.88L1324.21 1958.53L1327.16 1944.08L1330.1 1948.17L1333.05 1961.31L1335.99 1947.45L1338.94 1955.04L1341.88 1982.83L1344.83 1989.8L1347.77 1975.15L1350.72 2004.54L1353.66 2011.57L1356.61 2015.78L1359.55 1997.53L1362.5 2008.74L1365.44 1982.83L1368.39 2004.54L1371.33 1984.91L1374.28 1975.88L1377.22 1932.47L1380.17 1940.61L1383.11 1932.47L1386.06 1936.54L1389 1955.04L1391.95 1975.88L1394.89 1954.42L1397.84 1940L1400.78 1929.73L1403.73 1912.79L1406.67 1936.54L1409.62 1940L1412.56 1936.54L1415.51 1940L1418.45 1961.31L1421.4 1951.65L1424.34 1968.94L1427.29 1965.43L1430.23 1965.43L1433.18 1961.31L1436.12 1940L1439.07 1940L1442.01 1954.42L1444.96 1944.08L1447.9 1958.53L1450.85 1979.3L1453.79 1975.88L1453.79 2091.82L1450.85 2095.81L1447.9 2071.45L1444.96 2054.25L1442.01 2066.58L1439.07 2049.36L1436.12 2049.36L1433.18 2074.74L1430.23 2079.59L1427.29 2079.59L1424.34 2083.71L1421.4 2063.29L1418.45 2074.74L1415.51 2049.36L1412.56 2045.19L1409.62 2049.36L1406.67 2045.19L1403.73 2016.18L1400.78 2036.95L1397.84 2049.36L1394.89 2066.58L1391.95 2091.82L1389 2067.32L1386.06 2045.19L1383.11 2040.27L1380.17 2050.09L1377.22 2040.27L1374.28 2091.82L1371.33 2102.32L1368.39 2124.89L1365.44 2099.91L1362.5 2129.67L1359.55 2116.86L1356.61 2137.67L1353.66 2132.9L1350.72 2124.89L1347.77 2090.97L1344.83 2107.97L1341.88 2099.91L1338.94 2067.32L1335.99 2058.29L1333.05 2074.74L1330.1 2059.14L1327.16 2054.25L1324.21 2071.45L1321.27 2091.82L1318.32 2082.87L1315.38 2066.58L1312.43 2071.45L1309.49 2062.44L1306.54 2062.44L1303.6 2063.29L1300.65 2082.87L1297.71 2055.11L1294.76 2049.36L1291.82 2045.19L1288.87 2050.95L1285.93 2046.78L1282.98 2041.01L1280.04 2040.27L1277.09 2025.35L1274.15 2041.87L1271.2 2054.25L1268.26 2059.14L1265.31 2055.11L1262.37 2053.4L1259.42 2041.01L1256.48 2040.27L1253.53 2043.59L1250.59 2052.91L1247.64 2075.47L1244.7 2056.58L1241.75 2050.09L1238.81 2079.11L1235.86 2062.81L1232.92 2049.36L1229.97 2041.13L1227.03 2016.31L1224.08 1986.58L1221.14 1994.99L1218.19 1994.99L1215.25 2029.06L1212.3 2037.32L1209.36 2045.68L1206.41 2041.87L1203.47 2054.62L1200.52 2020.77L1197.58 2041.13L1194.63 2058.29L1191.69 2050.09L1188.74 2062.07L1185.8 2083.59L1182.85 2091.7L1179.91 2087.23L1176.96 2116.62L1174.02 2121.06L1171.07 2125.49L1168.13 2095.32L1165.18 2070.97L1162.24 2062.81L1159.29 2054.62L1156.35 2029.06L1153.4 2050.09L1150.46 2050.09L1147.51 2074.74L1144.57 2107.85L1141.62 2112.3L1138.68 2103.52L1135.73 2121.06L1132.79 2099.06L1129.84 2058.29L1126.9 2091.7L1123.95 2112.3L1121.01 2109.3L1118.06 2103.52L1115.12 2112.3L1112.17 2095.32L1109.23 2082.87L1106.28 2100.51L1103.34 2087.95L1100.39 2074.74L1097.45 2045.68L1094.5 2011.71L1091.56 1986.58L1088.61 1986.58L1085.67 2003.36L1082.72 2029.06L1079.78 2037.32L1076.83 2062.81L1073.89 2059.02L1070.94 2049.36L1068 2083.59L1065.05 2096.17L1062.11 2097.62L1059.16 2087.23L1056.22 2105.69L1053.27 2102.68L1050.33 2086.26L1047.38 2108.33L1044.44 2112.78L1041.49 2124.41L1038.55 2099.55L1035.6 2098.1L1032.66 2091.46L1029.71 2066.95L1026.77 2053.64L1023.82 2095.93L1020.88 2074.49L1017.93 2081.9L1014.99 2086.26L1012.04 2090.01L1009.1 2092.18L1006.15 2108.33L1003.21 2074.49L1000.26 2089.28L997.32 2088.44L994.37 2074.49L991.43 2061.83L988.48 2083.35L985.54 2077.41L982.59 2070.72L979.65 2078.14L976.7 2078.86L973.76 2095.08L970.81 2100.27L967.87 2095.08L964.92 2099.55L961.98 2096.65L959.03 2082.62L956.09 2104.73L953.14 2095.08L950.2 2081.9L947.25 2066.22L944.31 2074.49L941.36 2058.04L938.42 2081.9L935.47 2074.49L932.53 2100.99L929.58 2083.35L926.64 2074.49L923.69 2049.85L920.75 2092.18L917.8 2078.86L914.86 2099.55L911.91 2107.61L908.97 2140.53L906.02 2136.12L903.08 2152.07L900.13 2170.2L897.19 2169.49L894.24 2156.46L891.3 2131.82L888.35 2134.69L885.41 2123.69L882.46 2165.11L879.52 2201.06L876.57 2255.85Z" fill="#FDE5E4" stroke="#FDE5E4" stroke-width="1" stroke-linejoin="miter" stroke-miterlimit="6"/>
<path d="M876.57 2123.42L879.52 2072.71L882.46 2040.19L885.41 2003.49L888.35 2013.15L891.3 2010.63L894.24 2032.45L897.19 2044.11L900.13 2044.75L903.08 2028.54L906.02 2014.41L908.97 2018.3L911.91 1989.49L914.86 1982.52L917.8 1964.81L920.75 1976.19L923.69 1940.41L926.64 1961.1L929.58 1968.63L932.53 1983.77L935.47 1961.1L938.42 1967.39L941.36 1947.25L944.31 1961.1L947.25 1954.11L950.2 1967.39L953.14 1978.68L956.09 1986.99L959.03 1968.01L961.98 1980.02L964.92 1982.52L967.87 1978.68L970.81 1983.14L973.76 1978.68L976.7 1964.81L979.65 1964.19L982.59 1957.91L985.54 1963.58L988.48 1968.63L991.43 1950.42L994.37 1961.1L997.32 1972.98L1000.26 1973.7L1003.21 1961.1L1006.15 1990.12L1009.1 1976.19L1012.04 1974.32L1014.99 1971.11L1017.93 1967.39L1020.88 1961.1L1023.82 1979.4L1026.77 1943.57L1029.71 1954.73L1032.66 1975.57L1035.6 1981.27L1038.55 1982.52L1041.49 2004.12L1044.44 1993.97L1047.38 1990.12L1050.33 1971.11L1053.27 1985.22L1056.22 1987.82L1059.16 1971.94L1062.11 1980.86L1065.05 1979.61L1068 1968.84L1070.94 1940L1073.89 1948.07L1076.83 1951.24L1079.78 1930.04L1082.72 1923.26L1085.67 1902.49L1088.61 1889.19L1091.56 1889.19L1094.5 1909.18L1097.45 1936.94L1100.39 1961.31L1103.34 1972.56L1106.28 1983.35L1109.23 1968.22L1112.17 1978.88L1115.12 1993.56L1118.06 1985.95L1121.01 1990.95L1123.95 1993.56L1126.9 1975.77L1129.84 1947.45L1132.79 1982.1L1135.73 2001.19L1138.68 1985.95L1141.62 1993.56L1144.57 1989.7L1147.51 1961.31L1150.46 1940.61L1153.4 1940.61L1156.35 1923.26L1159.29 1944.39L1162.24 1951.24L1165.18 1958.12L1168.13 1978.88L1171.07 2005.06L1174.02 2001.19L1176.96 1997.32L1179.91 1971.94L1182.85 1975.77L1185.8 1968.84L1188.74 1950.63L1191.69 1940.61L1194.63 1947.45L1197.58 1933.18L1200.52 1916.5L1203.47 1944.39L1206.41 1933.79L1209.36 1936.94L1212.3 1930.04L1215.25 1923.26L1218.19 1895.82L1221.14 1895.82L1224.08 1889.19L1227.03 1912.89L1229.97 1933.18L1232.92 1940L1235.86 1951.24L1238.81 1965.02L1241.75 1940.61L1244.7 1946.02L1247.64 1961.93L1250.59 1942.96L1253.53 1935.21L1256.48 1932.47L1259.42 1933.08L1262.37 1943.36L1265.31 1944.79L1268.26 1948.17L1271.2 1944.08L1274.15 1933.79L1277.09 1920.23L1280.04 1932.47L1282.98 1933.08L1285.93 1937.86L1288.87 1941.32L1291.82 1936.54L1294.76 1940L1297.71 1944.79L1300.65 1968.22L1303.6 1951.65L1306.54 1950.93L1309.49 1950.93L1312.43 1958.53L1315.38 1954.42L1318.32 1968.22L1321.27 1975.88L1324.21 1958.53L1327.16 1944.08L1330.1 1948.17L1333.05 1961.31L1335.99 1947.45L1338.94 1955.04L1341.88 1982.83L1344.83 1989.8L1347.77 1975.15L1350.72 2004.54L1353.66 2011.57L1356.61 2015.78L1359.55 1997.53L1362.5 2008.74L1365.44 1982.83L1368.39 2004.54L1371.33 1984.91L1374.28 1975.88L1377.22 1932.47L1380.17 1940.61L1383.11 1932.47L1386.06 1936.54L1389 1955.04L1391.95 1975.88L1394.89 1954.42L1397.84 1940L1400.78 1929.73L1403.73 1912.79L1406.67 1936.54L1409.62 1940L1412.56 1936.54L1415.51 1940L1418.45 1961.31L1421.4 1951.65L1424.34 1968.94L1427.29 1965.43L1430.23 1965.43L1433.18 1961.31L1436.12 1940L1439.07 1940L1442.01 1954.42L1444.96 1944.08L1447.9 1958.53L1450.85 1979.3L1453.79 1975.88" fill="none" stroke="#EDA033" stroke-width="2.9" stroke-linejoin="round"/>
<path d="M876.57 2255.85L879.52 2201.06L882.46 2165.11L885.41 2123.69L888.35 2134.69L891.3 2131.82L894.24 2156.46L897.19 2169.49L900.13 2170.2L903.08 2152.07L906.02 2136.12L908.97 2140.53L911.91 2107.61L914.86 2099.55L917.8 2078.86L920.75 2092.18L923.69 2049.85L926.64 2074.49L929.58 2083.35L932.53 2100.99L935.47 2074.49L938.42 2081.9L941.36 2058.04L944.31 2074.49L947.25 2066.22L950.2 2081.9L953.14 2095.08L956.09 2104.73L959.03 2082.62L961.98 2096.65L964.92 2099.55L967.87 2095.08L970.81 2100.27L973.76 2095.08L976.7 2078.86L979.65 2078.14L982.59 2070.72L985.54 2077.41L988.48 2083.35L991.43 2061.83L994.37 2074.49L997.32 2088.44L1000.26 2089.28L1003.21 2074.49L1006.15 2108.33L1009.1 2092.18L1012.04 2090.01L1014.99 2086.26L1017.93 2081.9L1020.88 2074.49L1023.82 2095.93L1026.77 2053.64L1029.71 2066.95L1032.66 2091.46L1035.6 2098.1L1038.55 2099.55L1041.49 2124.41L1044.44 2112.78L1047.38 2108.33L1050.33 2086.26L1053.27 2102.68L1056.22 2105.69L1059.16 2087.23L1062.11 2097.62L1065.05 2096.17L1068 2083.59L1070.94 2049.36L1073.89 2059.02L1076.83 2062.81L1079.78 2037.32L1082.72 2029.06L1085.67 2003.36L1088.61 1986.58L1091.56 1986.58L1094.5 2011.71L1097.45 2045.68L1100.39 2074.74L1103.34 2087.95L1106.28 2100.51L1109.23 2082.87L1112.17 2095.32L1115.12 2112.3L1118.06 2103.52L1121.01 2109.3L1123.95 2112.3L1126.9 2091.7L1129.84 2058.29L1132.79 2099.06L1135.73 2121.06L1138.68 2103.52L1141.62 2112.3L1144.57 2107.85L1147.51 2074.74L1150.46 2050.09L1153.4 2050.09L1156.35 2029.06L1159.29 2054.62L1162.24 2062.81L1165.18 2070.97L1168.13 2095.32L1171.07 2125.49L1174.02 2121.06L1176.96 2116.62L1179.91 2087.23L1182.85 2091.7L1185.8 2083.59L1188.74 2062.07L1191.69 2050.09L1194.63 2058.29L1197.58 2041.13L1200.52 2020.77L1203.47 2054.62L1206.41 2041.87L1209.36 2045.68L1212.3 2037.32L1215.25 2029.06L1218.19 1994.99L1221.14 1994.99L1224.08 1986.58L1227.03 2016.31L1229.97 2041.13L1232.92 2049.36L1235.86 2062.81L1238.81 2079.11L1241.75 2050.09L1244.7 2056.58L1247.64 2075.47L1250.59 2052.91L1253.53 2043.59L1256.48 2040.27L1259.42 2041.01L1262.37 2053.4L1265.31 2055.11L1268.26 2059.14L1271.2 2054.25L1274.15 2041.87L1277.09 2025.35L1280.04 2040.27L1282.98 2041.01L1285.93 2046.78L1288.87 2050.95L1291.82 2045.19L1294.76 2049.36L1297.71 2055.11L1300.65 2082.87L1303.6 2063.29L1306.54 2062.44L1309.49 2062.44L1312.43 2071.45L1315.38 2066.58L1318.32 2082.87L1321.27 2091.82L1324.21 2071.45L1327.16 2054.25L1330.1 2059.14L1333.05 2074.74L1335.99 2058.29L1338.94 2067.32L1341.88 2099.91L1344.83 2107.97L1347.77 2090.97L1350.72 2124.89L1353.66 2132.9L1356.61 2137.67L1359.55 2116.86L1362.5 2129.67L1365.44 2099.91L1368.39 2124.89L1371.33 2102.32L1374.28 2091.82L1377.22 2040.27L1380.17 2050.09L1383.11 2040.27L1386.06 2045.19L1389 2067.32L1391.95 2091.82L1394.89 2066.58L1397.84 2049.36L1400.78 2036.95L1403.73 2016.18L1406.67 2045.19L1409.62 2049.36L1412.56 2045.19L1415.51 2049.36L1418.45 2074.74L1421.4 2063.29L1424.34 2083.71L1427.29 2079.59L1430.23 2079.59L1433.18 2074.74L1436.12 2049.36L1439.07 2049.36L1442.01 2066.58L1444.96 2054.25L1447.9 2071.45L1450.85 2095.81L1453.79 2091.82" fill="none" stroke="#E2602F" stroke-width="2.9" stroke-linejoin="round"/>
<path d="M876.57 2189.63L879.52 2136.88L882.46 2102.65L885.41 2063.59L888.35 2073.92L891.3 2071.22L894.24 2094.46L897.19 2106.8L900.13 2107.48L903.08 2090.3L906.02 2075.26L908.97 2079.42L911.91 2048.55L914.86 2041.03L917.8 2021.84L920.75 2034.18L923.69 1995.13L926.64 2017.8L929.58 2025.99L932.53 2042.38L935.47 2017.8L938.42 2024.64L941.36 2002.65L944.31 2017.8L947.25 2010.17L950.2 2024.64L953.14 2036.88L956.09 2045.86L959.03 2025.32L961.98 2038.34L964.92 2041.03L967.87 2036.88L970.81 2041.7L973.76 2036.88L976.7 2021.84L979.65 2021.17L982.59 2014.32L985.54 2020.49L988.48 2025.99L991.43 2006.13L994.37 2017.8L997.32 2030.71L1000.26 2031.49L1003.21 2017.8L1006.15 2049.22L1009.1 2034.18L1012.04 2032.16L1014.99 2028.69L1017.93 2024.64L1020.88 2017.8L1023.82 2037.66L1026.77 1998.61L1029.71 2010.84L1032.66 2033.51L1035.6 2039.68L1038.55 2041.03L1041.49 2064.26L1044.44 2053.38L1047.38 2049.22L1050.33 2028.69L1053.27 2043.95L1056.22 2046.76L1059.16 2029.58L1062.11 2039.24L1065.05 2037.89L1068 2026.22L1070.94 1994.68L1073.89 2003.54L1076.83 2007.02L1079.78 1983.68L1082.72 1976.16L1085.67 1952.93L1088.61 1937.89L1091.56 1937.89L1094.5 1960.44L1097.45 1991.31L1100.39 2018.02L1103.34 2030.26L1106.28 2041.93L1109.23 2025.54L1112.17 2037.1L1115.12 2052.93L1118.06 2044.74L1121.01 2050.12L1123.95 2052.93L1126.9 2033.74L1129.84 2002.87L1132.79 2040.58L1135.73 2061.12L1138.68 2044.74L1141.62 2052.93L1144.57 2048.78L1147.51 2018.02L1150.46 1995.35L1153.4 1995.35L1156.35 1976.16L1159.29 1999.5L1162.24 2007.02L1165.18 2014.54L1168.13 2037.1L1171.07 2065.27L1174.02 2061.12L1176.96 2056.97L1179.91 2029.58L1182.85 2033.74L1185.8 2026.22L1188.74 2006.35L1191.69 1995.35L1194.63 2002.87L1197.58 1987.16L1200.52 1968.64L1203.47 1999.5L1206.41 1987.83L1209.36 1991.31L1212.3 1983.68L1215.25 1976.16L1218.19 1945.41L1221.14 1945.41L1224.08 1937.89L1227.03 1964.6L1229.97 1987.16L1232.92 1994.68L1235.86 2007.02L1238.81 2022.06L1241.75 1995.35L1244.7 2001.3L1247.64 2018.7L1250.59 1997.93L1253.53 1989.4L1256.48 1986.37L1259.42 1987.05L1262.37 1998.38L1265.31 1999.95L1268.26 2003.66L1271.2 1999.17L1274.15 1987.83L1277.09 1972.79L1280.04 1986.37L1282.98 1987.05L1285.93 1992.32L1288.87 1996.14L1291.82 1990.86L1294.76 1994.68L1297.71 1999.95L1300.65 2025.54L1303.6 2007.47L1306.54 2006.69L1309.49 2006.69L1312.43 2014.99L1315.38 2010.5L1318.32 2025.54L1321.27 2033.85L1324.21 2014.99L1327.16 1999.17L1330.1 2003.66L1333.05 2018.02L1335.99 2002.87L1338.94 2011.18L1341.88 2041.37L1344.83 2048.89L1347.77 2033.06L1350.72 2064.71L1353.66 2072.23L1356.61 2076.72L1359.55 2057.19L1362.5 2069.2L1365.44 2041.37L1368.39 2064.71L1371.33 2043.61L1374.28 2033.85L1377.22 1986.37L1380.17 1995.35L1383.11 1986.37L1386.06 1990.86L1389 2011.18L1391.95 2033.85L1394.89 2010.5L1397.84 1994.68L1400.78 1983.34L1403.73 1964.49L1406.67 1990.86L1409.62 1994.68L1412.56 1990.86L1415.51 1994.68L1418.45 2018.02L1421.4 2007.47L1424.34 2026.33L1427.29 2022.51L1430.23 2022.51L1433.18 2018.02L1436.12 1994.68L1439.07 1994.68L1442.01 2010.5L1444.96 1999.17L1447.9 2014.99L1450.85 2037.55L1453.79 2033.85" fill="none" stroke="#2C1818" stroke-width="4.2" stroke-linejoin="round"/>
<g fill="#2C1818"><circle cx="876.57" cy="2189.63" r="3.95"/><circle cx="879.52" cy="2136.88" r="3.95"/><circle cx="882.46" cy="2102.65" r="3.95"/><circle cx="885.41" cy="2063.59" r="3.95"/><circle cx="888.35" cy="2073.92" r="3.95"/><circle cx="891.3" cy="2071.22" r="3.95"/><circle cx="894.24" cy="2094.46" r="3.95"/><circle cx="897.19" cy="2106.8" r="3.95"/><circle cx="900.13" cy="2107.48" r="3.95"/><circle cx="903.08" cy="2090.3" r="3.95"/><circle cx="906.02" cy="2075.26" r="3.95"/><circle cx="908.97" cy="2079.42" r="3.95"/><circle cx="911.91" cy="2048.55" r="3.95"/><circle cx="914.86" cy="2041.03" r="3.95"/><circle cx="917.8" cy="2021.84" r="3.95"/><circle cx="920.75" cy="2034.18" r="3.95"/><circle cx="923.69" cy="1995.13" r="3.95"/><circle cx="926.64" cy="2017.8" r="3.95"/><circle cx="929.58" cy="2025.99" r="3.95"/><circle cx="932.53" cy="2042.38" r="3.95"/><circle cx="935.47" cy="2017.8" r="3.95"/><circle cx="938.42" cy="2024.64" r="3.95"/><circle cx="941.36" cy="2002.65" r="3.95"/><circle cx="944.31" cy="2017.8" r="3.95"/><circle cx="947.25" cy="2010.17" r="3.95"/><circle cx="950.2" cy="2024.64" r="3.95"/><circle cx="953.14" cy="2036.88" r="3.95"/><circle cx="956.09" cy="2045.86" r="3.95"/><circle cx="959.03" cy="2025.32" r="3.95"/><circle cx="961.98" cy="2038.34" r="3.95"/><circle cx="964.92" cy="2041.03" r="3.95"/><circle cx="967.87" cy="2036.88" r="3.95"/><circle cx="970.81" cy="2041.7" r="3.95"/><circle cx="973.76" cy="2036.88" r="3.95"/><circle cx="976.7" cy="2021.84" r="3.95"/><circle cx="979.65" cy="2021.17" r="3.95"/><circle cx="982.59" cy="2014.32" r="3.95"/><circle cx="985.54" cy="2020.49" r="3.95"/><circle cx="988.48" cy="2025.99" r="3.95"/><circle cx="991.43" cy="2006.13" r="3.95"/><circle cx="994.37" cy="2017.8" r="3.95"/><circle cx="997.32" cy="2030.71" r="3.95"/><circle cx="1000.26" cy="2031.49" r="3.95"/><circle cx="1003.21" cy="2017.8" r="3.95"/><circle cx="1006.15" cy="2049.22" r="3.95"/><circle cx="1009.1" cy="2034.18" r="3.95"/><circle cx="1012.04" cy="2032.16" r="3.95"/><circle cx="1014.99" cy="2028.69" r="3.95"/><circle cx="1017.93" cy="2024.64" r="3.95"/><circle cx="1020.88" cy="2017.8" r="3.95"/><circle cx="1023.82" cy="2037.66" r="3.95"/><circle cx="1026.77" cy="1998.61" r="3.95"/><circle cx="1029.71" cy="2010.84" r="3.95"/><circle cx="1032.66" cy="2033.51" r="3.95"/><circle cx="1035.6" cy="2039.68" r="3.95"/><circle cx="1038.55" cy="2041.03" r="3.95"/><circle cx="1041.49" cy="2064.26" r="3.95"/><circle cx="1044.44" cy="2053.38" r="3.95"/><circle cx="1047.38" cy="2049.22" r="3.95"/><circle cx="1050.33" cy="2028.69" r="3.95"/><circle cx="1053.27" cy="2043.95" r="3.95"/><circle cx="1056.22" cy="2046.76" r="3.95"/><circle cx="1059.16" cy="2029.58" r="3.95"/><circle cx="1062.11" cy="2039.24" r="3.95"/><circle cx="1065.05" cy="2037.89" r="3.95"/><circle cx="1068" cy="2026.22" r="3.95"/><circle cx="1070.94" cy="1994.68" r="3.95"/><circle cx="1073.89" cy="2003.54" r="3.95"/><circle cx="1076.83" cy="2007.02" r="3.95"/><circle cx="1079.78" cy="1983.68" r="3.95"/><circle cx="1082.72" cy="1976.16" r="3.95"/><circle cx="1085.67" cy="1952.93" r="3.95"/><circle cx="1088.61" cy="1937.89" r="3.95"/><circle cx="1091.56" cy="1937.89" r="3.95"/><circle cx="1094.5" cy="1960.44" r="3.95"/><circle cx="1097.45" cy="1991.31" r="3.95"/><circle cx="1100.39" cy="2018.02" r="3.95"/><circle cx="1103.34" cy="2030.26" r="3.95"/><circle cx="1106.28" cy="2041.93" r="3.95"/><circle cx="1109.23" cy="2025.54" r="3.95"/><circle cx="1112.17" cy="2037.1" r="3.95"/><circle cx="1115.12" cy="2052.93" r="3.95"/><circle cx="1118.06" cy="2044.74" r="3.95"/><circle cx="1121.01" cy="2050.12" r="3.95"/><circle cx="1123.95" cy="2052.93" r="3.95"/><circle cx="1126.9" cy="2033.74" r="3.95"/><circle cx="1129.84" cy="2002.87" r="3.95"/><circle cx="1132.79" cy="2040.58" r="3.95"/><circle cx="1135.73" cy="2061.12" r="3.95"/><circle cx="1138.68" cy="2044.74" r="3.95"/><circle cx="1141.62" cy="2052.93" r="3.95"/><circle cx="1144.57" cy="2048.78" r="3.95"/><circle cx="1147.51" cy="2018.02" r="3.95"/><circle cx="1150.46" cy="1995.35" r="3.95"/><circle cx="1153.4" cy="1995.35" r="3.95"/><circle cx="1156.35" cy="1976.16" r="3.95"/><circle cx="1159.29" cy="1999.5" r="3.95"/><circle cx="1162.24" cy="2007.02" r="3.95"/><circle cx="1165.18" cy="2014.54" r="3.95"/><circle cx="1168.13" cy="2037.1" r="3.95"/><circle cx="1171.07" cy="2065.27" r="3.95"/><circle cx="1174.02" cy="2061.12" r="3.95"/><circle cx="1176.96" cy="2056.97" r="3.95"/><circle cx="1179.91" cy="2029.58" r="3.95"/><circle cx="1182.85" cy="2033.74" r="3.95"/><circle cx="1185.8" cy="2026.22" r="3.95"/><circle cx="1188.74" cy="2006.35" r="3.95"/><circle cx="1191.69" cy="1995.35" r="3.95"/><circle cx="1194.63" cy="2002.87" r="3.95"/><circle cx="1197.58" cy="1987.16" r="3.95"/><circle cx="1200.52" cy="1968.64" r="3.95"/><circle cx="1203.47" cy="1999.5" r="3.95"/><circle cx="1206.41" cy="1987.83" r="3.95"/><circle cx="1209.36" cy="1991.31" r="3.95"/><circle cx="1212.3" cy="1983.68" r="3.95"/><circle cx="1215.25" cy="1976.16" r="3.95"/><circle cx="1218.19" cy="1945.41" r="3.95"/><circle cx="1221.14" cy="1945.41" r="3.95"/><circle cx="1224.08" cy="1937.89" r="3.95"/><circle cx="1227.03" cy="1964.6" r="3.95"/><circle cx="1229.97" cy="1987.16" r="3.95"/><circle cx="1232.92" cy="1994.68" r="3.95"/><circle cx="1235.86" cy="2007.02" r="3.95"/><circle cx="1238.81" cy="2022.06" r="3.95"/><circle cx="1241.75" cy="1995.35" r="3.95"/><circle cx="1244.7" cy="2001.3" r="3.95"/><circle cx="1247.64" cy="2018.7" r="3.95"/><circle cx="1250.59" cy="1997.93" r="3.95"/><circle cx="1253.53" cy="1989.4" r="3.95"/><circle cx="1256.48" cy="1986.37" r="3.95"/><circle cx="1259.42" cy="1987.05" r="3.95"/><circle cx="1262.37" cy="1998.38" r="3.95"/><circle cx="1265.31" cy="1999.95" r="3.95"/><circle cx="1268.26" cy="2003.66" r="3.95"/><circle cx="1271.2" cy="1999.17" r="3.95"/><circle cx="1274.15" cy="1987.83" r="3.95"/><circle cx="1277.09" cy="1972.79" r="3.95"/><circle cx="1280.04" cy="1986.37" r="3.95"/><circle cx="1282.98" cy="1987.05" r="3.95"/><circle cx="1285.93" cy="1992.32" r="3.95"/><circle cx="1288.87" cy="1996.14" r="3.95"/><circle cx="1291.82" cy="1990.86" r="3.95"/><circle cx="1294.76" cy="1994.68" r="3.95"/><circle cx="1297.71" cy="1999.95" r="3.95"/><circle cx="1300.65" cy="2025.54" r="3.95"/><circle cx="1303.6" cy="2007.47" r="3.95"/><circle cx="1306.54" cy="2006.69" r="3.95"/><circle cx="1309.49" cy="2006.69" r="3.95"/><circle cx="1312.43" cy="2014.99" r="3.95"/><circle cx="1315.38" cy="2010.5" r="3.95"/><circle cx="1318.32" cy="2025.54" r="3.95"/><circle cx="1321.27" cy="2033.85" r="3.95"/><circle cx="1324.21" cy="2014.99" r="3.95"/><circle cx="1327.16" cy="1999.17" r="3.95"/><circle cx="1330.1" cy="2003.66" r="3.95"/><circle cx="1333.05" cy="2018.02" r="3.95"/><circle cx="1335.99" cy="2002.87" r="3.95"/><circle cx="1338.94" cy="2011.18" r="3.95"/><circle cx="1341.88" cy="2041.37" r="3.95"/><circle cx="1344.83" cy="2048.89" r="3.95"/><circle cx="1347.77" cy="2033.06" r="3.95"/><circle cx="1350.72" cy="2064.71" r="3.95"/><circle cx="1353.66" cy="2072.23" r="3.95"/><circle cx="1356.61" cy="2076.72" r="3.95"/><circle cx="1359.55" cy="2057.19" r="3.95"/><circle cx="1362.5" cy="2069.2" r="3.95"/><circle cx="1365.44" cy="2041.37" r="3.95"/><circle cx="1368.39" cy="2064.71" r="3.95"/><circle cx="1371.33" cy="2043.61" r="3.95"/><circle cx="1374.28" cy="2033.85" r="3.95"/><circle cx="1377.22" cy="1986.37" r="3.95"/><circle cx="1380.17" cy="1995.35" r="3.95"/><circle cx="1383.11" cy="1986.37" r="3.95"/><circle cx="1386.06" cy="1990.86" r="3.95"/><circle cx="1389" cy="2011.18" r="3.95"/><circle cx="1391.95" cy="2033.85" r="3.95"/><circle cx="1394.89" cy="2010.5" r="3.95"/><circle cx="1397.84" cy="1994.68" r="3.95"/><circle cx="1400.78" cy="1983.34" r="3.95"/><circle cx="1403.73" cy="1964.49" r="3.95"/><circle cx="1406.67" cy="1990.86" r="3.95"/><circle cx="1409.62" cy="1994.68" r="3.95"/><circle cx="1412.56" cy="1990.86" r="3.95"/><circle cx="1415.51" cy="1994.68" r="3.95"/><circle cx="1418.45" cy="2018.02" r="3.95"/><circle cx="1421.4" cy="2007.47" r="3.95"/><circle cx="1424.34" cy="2026.33" r="3.95"/><circle cx="1427.29" cy="2022.51" r="3.95"/><circle cx="1430.23" cy="2022.51" r="3.95"/><circle cx="1433.18" cy="2018.02" r="3.95"/><circle cx="1436.12" cy="1994.68" r="3.95"/><circle cx="1439.07" cy="1994.68" r="3.95"/><circle cx="1442.01" cy="2010.5" r="3.95"/><circle cx="1444.96" cy="1999.17" r="3.95"/><circle cx="1447.9" cy="2014.99" r="3.95"/><circle cx="1450.85" cy="2037.55" r="3.95"/><circle cx="1453.79" cy="2033.85" r="3.95"/></g>
<path d="M876.57 2185.68A3.95 3.95 0 0 0 876.57 2193.58Z" fill="#000"/>
<path d="M1453.79 2029.9A3.95 3.95 0 0 1 1453.79 2037.8Z" fill="#000"/>
<path d="M866.5 1881.95V2332.4H1462.2" fill="none" stroke="#262626" stroke-width="3.0" stroke-linejoin="miter"/>
<path d="M875.1 2332.4v-7.2M1022.35 2332.4v-7.2M1169.6 2332.4v-7.2M1316.85 2332.4v-7.2M866.5 2332.4h7.2M866.5 2220.16h7.2M866.5 2107.93h7.2M866.5 1995.69h7.2M866.5 1883.45h7.2" fill="none" stroke="#262626" stroke-width="3.0"/>
<g font-size="43" fill="#262626"><text x="876.75" y="2383.2" text-anchor="middle">0</text><text x="1025.65" y="2383.2" text-anchor="middle">50</text><text x="1174.55" y="2383.2" text-anchor="middle">100</text><text x="1321.8" y="2383.2" text-anchor="middle">150</text><text x="854.7" y="2347.4" text-anchor="end">50</text><text x="854.7" y="2235.16" text-anchor="end">60</text><text x="854.7" y="2122.93" text-anchor="end">70</text><text x="854.7" y="2010.69" text-anchor="end">80</text><text x="854.7" y="1898.45" text-anchor="end">90</text></g>
<text x="1123.1" y="1868.8" font-size="44" font-weight="bold" fill="#000" letter-spacing="1.2">zy4</text>
<text transform="translate(31.1 268) rotate(-90)" text-anchor="middle" font-size="44" fill="#262626" letter-spacing="3.6">%correct</text>
<text transform="translate(31.1 832.3) rotate(-90)" text-anchor="middle" font-size="44" fill="#262626" letter-spacing="3.15">%correct</text>
<text transform="translate(31.1 1538) rotate(-90)" text-anchor="middle" font-size="44" fill="#262626" letter-spacing="0">% correct</text>
<text transform="translate(31.1 2113.1) rotate(-90)" text-anchor="middle" font-size="44" fill="#262626" letter-spacing="0">% correct</text>
<text x="473.8" y="1197.7" text-anchor="middle" font-size="44" fill="#262626" letter-spacing="2.5">sessions</text>
<text x="1158.6" y="1197.7" text-anchor="middle" font-size="44" fill="#262626" letter-spacing="2.5">sessions</text>
<text x="467.2" y="2448.6" text-anchor="middle" font-size="44" fill="#262626" letter-spacing="0">trials</text>
<text x="1172.7" y="2448.6" text-anchor="middle" font-size="44" fill="#262626" letter-spacing="0">trials</text>
</svg>
</body></html>
